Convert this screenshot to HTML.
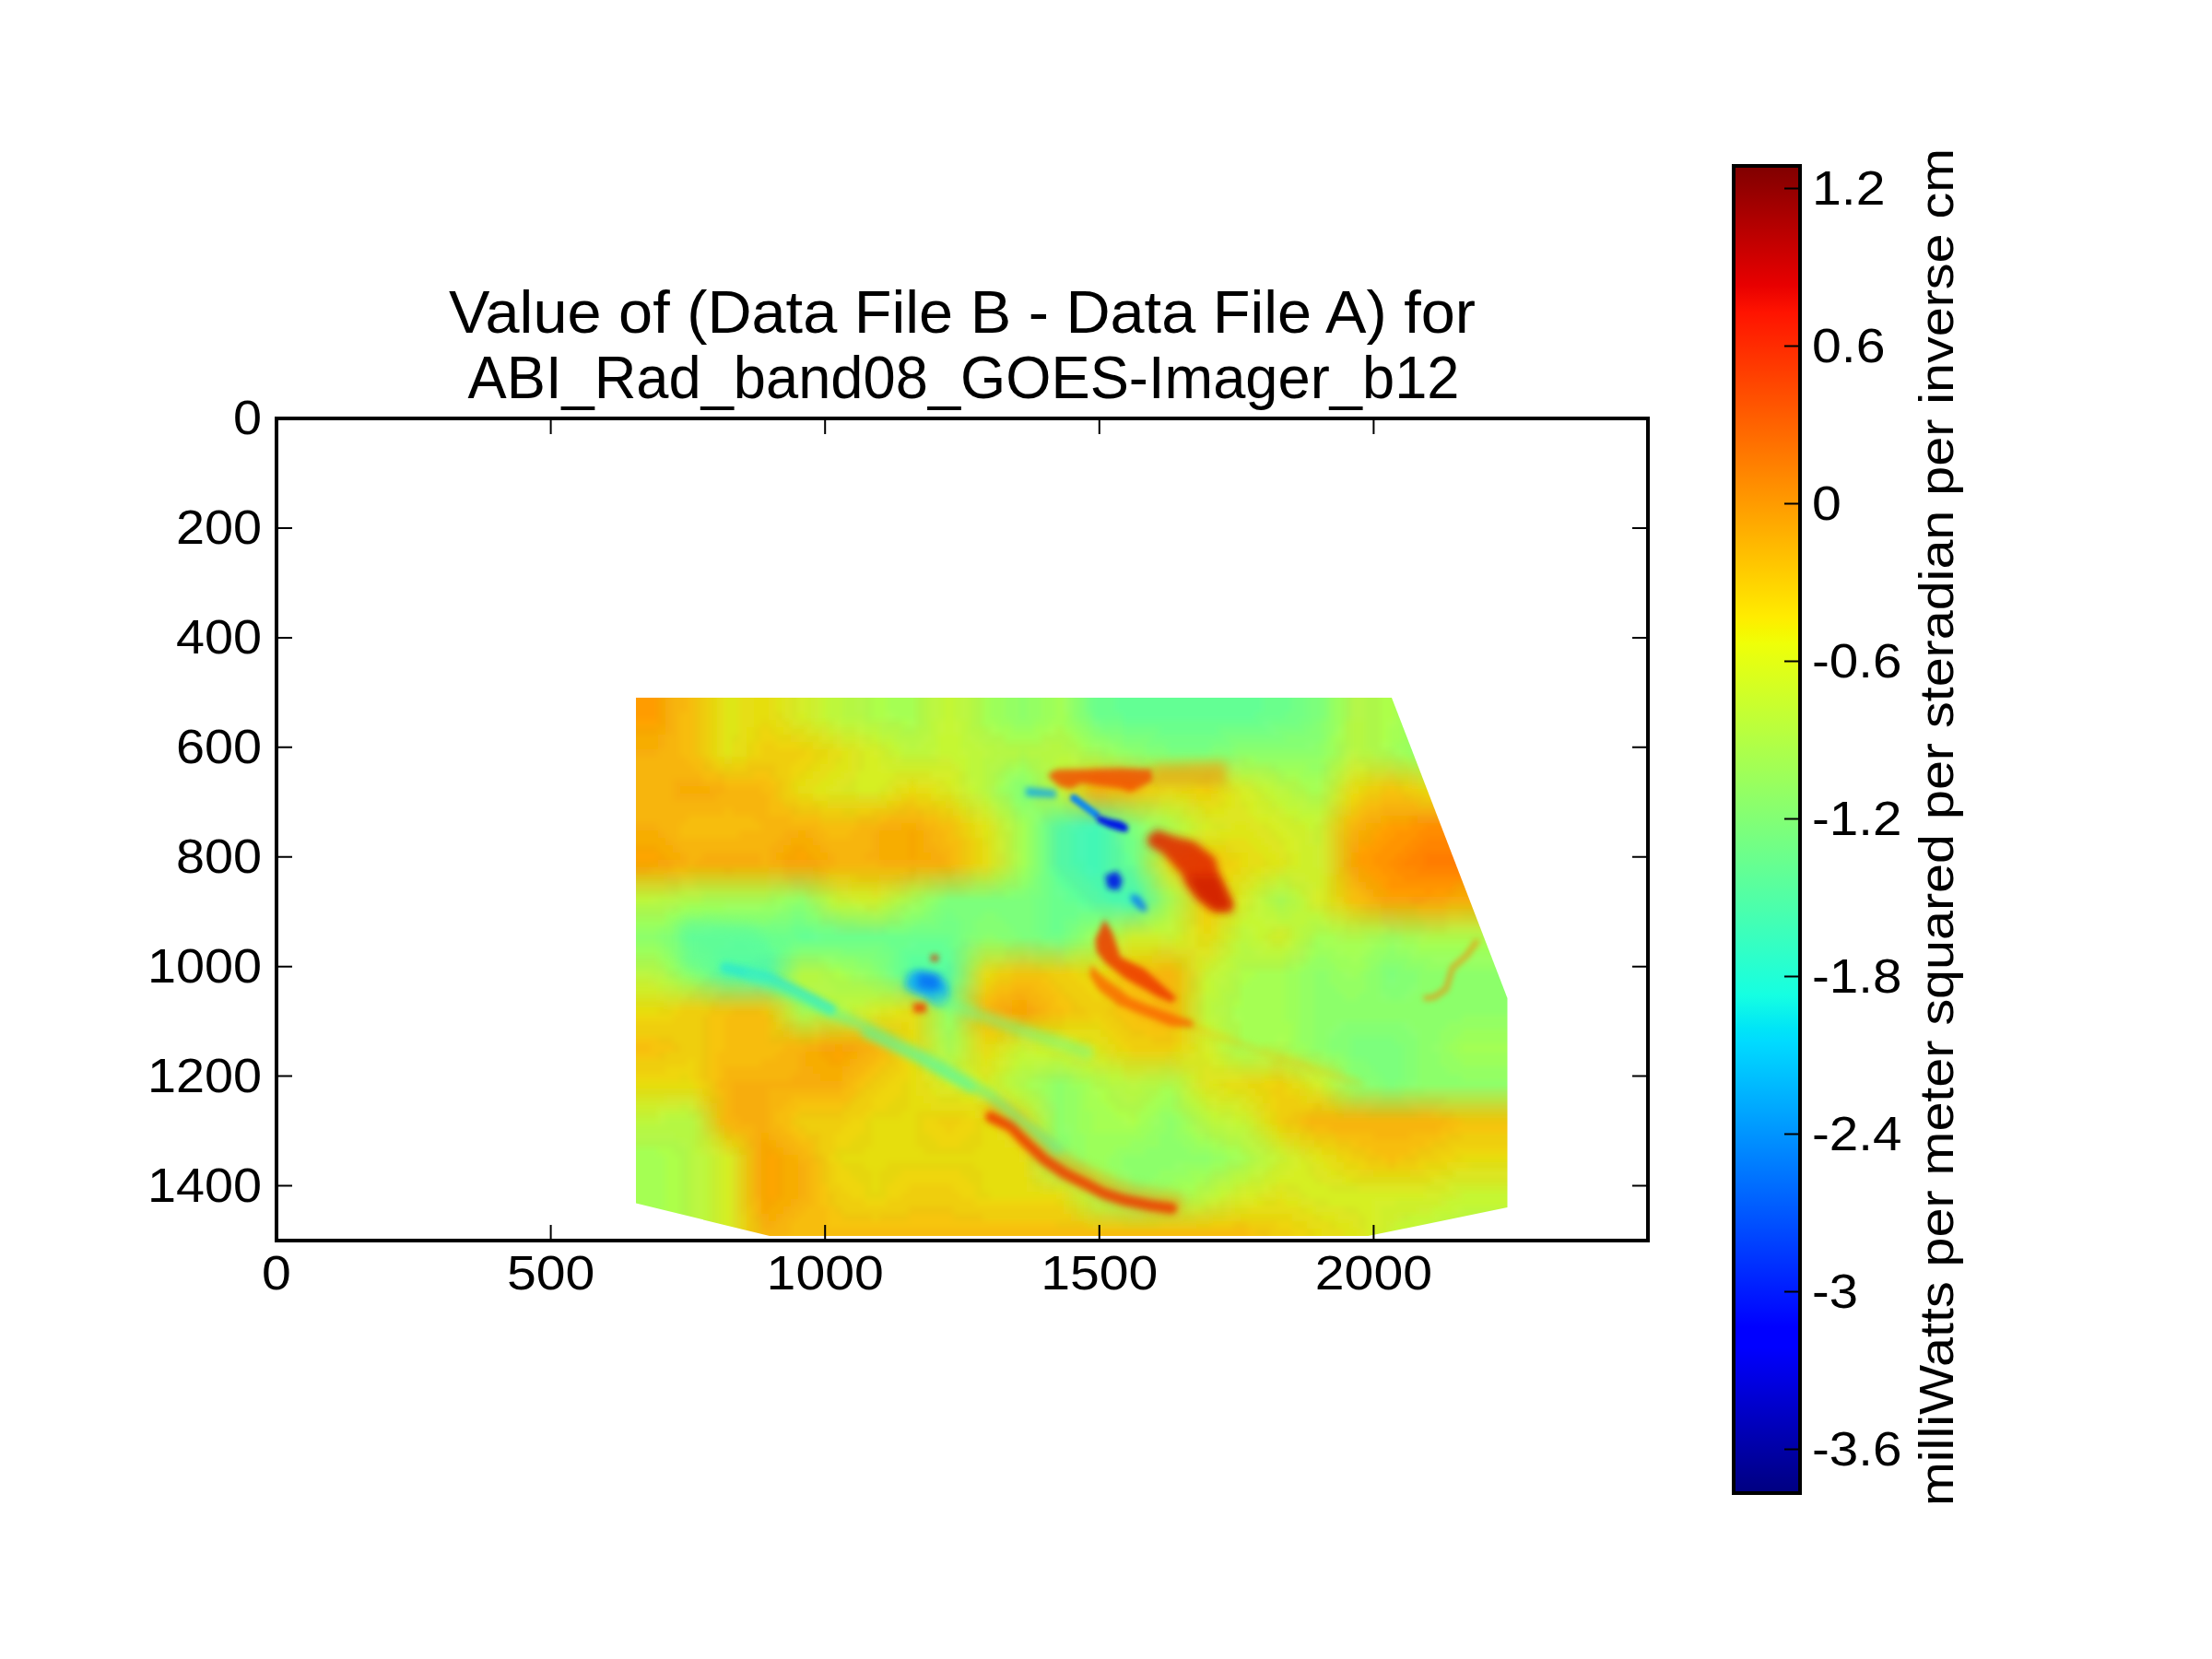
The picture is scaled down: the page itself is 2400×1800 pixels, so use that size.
<!DOCTYPE html><html><head><meta charset="utf-8"><style>html,body{margin:0;padding:0;background:#fff;overflow:hidden}svg{display:block}</style></head><body>
<svg width="2400" height="1800" viewBox="0 0 2400 1800" font-family="Liberation Sans, sans-serif" fill="#000">
<defs><linearGradient id="jet" x1="0" y1="1" x2="0" y2="0">
<stop offset="0" stop-color="#000080"/>
<stop offset="0.11" stop-color="#0000ff"/>
<stop offset="0.125" stop-color="#0000ff"/>
<stop offset="0.34" stop-color="#00dbff"/>
<stop offset="0.35" stop-color="#00e5f7"/>
<stop offset="0.375" stop-color="#15ffe2"/>
<stop offset="0.64" stop-color="#efff08"/>
<stop offset="0.65" stop-color="#f7f600"/>
<stop offset="0.66" stop-color="#ffec00"/>
<stop offset="0.89" stop-color="#ff1300"/>
<stop offset="0.91" stop-color="#e80000"/>
<stop offset="1" stop-color="#800000"/>
</linearGradient></defs>
<defs><clipPath id="cp"><polygon points="690,757 1510,757 1635.5,1083 1635.5,1310 1484.5,1341 835,1341 690,1305.5"/></clipPath><filter id="bl" x="0" y="0" width="1" height="1"><feGaussianBlur stdDeviation="3.2"/></filter></defs><g clip-path="url(#cp)"><g filter="url(#bl)" shape-rendering="crispEdges"><path fill="#ff9c00" d="M674 741h40v8h-40zM674 749h40v8h-40zM674 757h40v8h-40zM674 765h40v8h-40zM674 773h40v8h-40zM1506 893h24v8h-24zM1498 901h16v8h-16zM1490 909h16v8h-16zM1482 917h16v8h-16zM1474 925h16v8h-16zM1474 933h16v8h-16zM1482 941h16v8h-16zM1490 949h16v8h-16zM1498 957h8v8h-8zM1506 965h40v8h-40zM1554 965h16v8h-16z"/><path fill="#f7a500" d="M714 741h8v8h-8zM714 749h8v8h-8zM714 757h8v8h-8zM714 765h8v8h-8zM714 773h8v8h-8zM714 781h8v8h-8zM674 789h40v8h-40zM1506 885h24v8h-24zM1490 893h8v8h-8zM986 901h8v8h-8zM1482 901h8v8h-8zM986 909h8v8h-8zM1474 909h16v8h-16zM674 917h40v8h-40zM858 917h16v8h-16zM986 917h8v8h-8zM714 925h8v8h-8zM850 925h16v8h-16zM874 925h8v8h-8zM986 925h8v8h-8zM1466 925h8v8h-8zM674 933h40v8h-40zM1466 933h8v8h-8zM1474 941h8v8h-8zM1474 949h16v8h-16zM1482 957h16v8h-16zM1490 965h16v8h-16zM1578 965h72v8h-72zM1106 1085h8v8h-8zM1098 1093h16v8h-16zM906 1133h8v8h-8zM890 1141h16v8h-16zM914 1141h8v8h-8zM898 1149h16v8h-16zM826 1237h8v8h-8zM826 1245h16v8h-16zM826 1253h8v8h-8zM842 1253h8v8h-8zM826 1261h8v8h-8zM842 1261h8v8h-8zM826 1269h8v8h-8zM842 1269h8v8h-8zM826 1277h8v8h-8zM842 1277h8v8h-8zM826 1285h8v8h-8zM842 1285h8v8h-8zM826 1293h8v8h-8zM842 1293h8v8h-8zM826 1301h16v8h-16zM826 1309h8v8h-8z"/><path fill="#f7ad08" d="M722 741h8v8h-8zM722 749h8v8h-8zM722 757h8v8h-8zM722 765h8v8h-8zM722 773h8v8h-8zM722 781h8v8h-8zM722 789h8v8h-8zM714 797h8v8h-8zM714 805h8v8h-8zM674 813h40v8h-40zM730 845h32v8h-32zM730 853h8v8h-8zM770 853h16v8h-16zM730 861h48v8h-48zM1498 877h72v8h-72zM1482 885h16v8h-16zM674 893h40v8h-40zM954 893h24v8h-24zM994 893h8v8h-8zM1474 893h8v8h-8zM714 901h8v8h-8zM850 901h16v8h-16zM874 901h8v8h-8zM946 901h8v8h-8zM1002 901h8v8h-8zM1466 901h8v8h-8zM722 909h8v8h-8zM842 909h16v8h-16zM882 909h8v8h-8zM946 909h8v8h-8zM1002 909h8v8h-8zM1466 909h8v8h-8zM730 917h8v8h-8zM834 917h16v8h-16zM890 917h8v8h-8zM946 917h8v8h-8zM1002 917h16v8h-16zM738 925h8v8h-8zM762 925h64v8h-64zM834 925h8v8h-8zM898 925h8v8h-8zM938 925h16v8h-16zM1010 925h16v8h-16zM730 933h16v8h-16zM754 933h72v8h-72zM834 933h16v8h-16zM890 933h16v8h-16zM954 933h72v8h-72zM1466 949h8v8h-8zM1474 957h8v8h-8zM1482 965h8v8h-8zM1490 973h8v8h-8zM1570 973h80v8h-80zM1098 1077h16v8h-16zM1082 1085h16v8h-16zM1114 1085h8v8h-8zM1074 1093h16v8h-16zM1122 1093h8v8h-8zM874 1133h16v8h-16zM930 1133h16v8h-16zM866 1141h8v8h-8zM930 1141h8v8h-8zM866 1149h8v8h-8zM922 1149h8v8h-8zM866 1157h16v8h-16zM914 1157h8v8h-8zM858 1165h32v8h-32zM794 1173h120v8h-120zM794 1181h40v8h-40zM794 1189h40v8h-40zM794 1197h40v8h-40zM794 1205h40v8h-40zM802 1213h32v8h-32zM818 1221h16v8h-16zM818 1229h8v8h-8zM834 1229h8v8h-8zM818 1237h8v8h-8zM842 1237h8v8h-8zM818 1245h8v8h-8zM850 1245h8v8h-8zM818 1253h8v8h-8zM818 1261h8v8h-8zM866 1261h8v8h-8zM818 1269h8v8h-8zM866 1269h8v8h-8zM818 1277h8v8h-8zM866 1277h8v8h-8zM818 1285h8v8h-8zM866 1285h8v8h-8zM818 1293h8v8h-8zM866 1293h8v8h-8zM858 1301h8v8h-8zM850 1309h8v8h-8zM826 1317h8v8h-8zM842 1317h8v8h-8zM826 1325h16v8h-16z"/><path fill="#f7b508" d="M730 741h16v8h-16zM730 749h16v8h-16zM730 757h16v8h-16zM730 765h16v8h-16zM730 773h8v8h-8zM730 781h8v8h-8zM730 789h8v8h-8zM722 797h16v8h-16zM722 805h16v8h-16zM714 813h24v8h-24zM674 821h72v8h-72zM674 829h80v8h-80zM674 837h88v8h-88zM674 845h56v8h-56zM762 845h24v8h-24zM674 853h56v8h-56zM786 853h40v8h-40zM674 861h56v8h-56zM778 861h56v8h-56zM674 869h160v8h-160zM1498 869h40v8h-40zM674 877h112v8h-112zM794 877h40v8h-40zM1482 877h16v8h-16zM674 885h72v8h-72zM818 885h40v8h-40zM962 885h40v8h-40zM1474 885h8v8h-8zM714 893h24v8h-24zM826 893h64v8h-64zM930 893h24v8h-24zM1002 893h16v8h-16zM1466 893h8v8h-8zM722 901h16v8h-16zM802 901h48v8h-48zM882 901h16v8h-16zM922 901h24v8h-24zM1010 901h16v8h-16zM730 909h112v8h-112zM890 909h56v8h-56zM1010 909h16v8h-16zM738 917h96v8h-96zM898 917h48v8h-48zM1018 917h16v8h-16zM746 925h16v8h-16zM826 925h8v8h-8zM906 925h32v8h-32zM1026 925h8v8h-8zM746 933h8v8h-8zM826 933h8v8h-8zM906 933h48v8h-48zM1026 933h8v8h-8zM1466 957h8v8h-8zM1474 965h8v8h-8zM1482 973h8v8h-8zM1250 1053h24v8h-24zM1250 1061h24v8h-24zM1098 1069h24v8h-24zM1250 1069h24v8h-24zM1082 1077h16v8h-16zM1114 1077h16v8h-16zM1250 1077h24v8h-24zM1074 1085h8v8h-8zM1122 1085h16v8h-16zM1250 1085h24v8h-24zM1066 1093h8v8h-8zM1130 1093h8v8h-8zM1250 1093h24v8h-24zM1074 1101h24v8h-24zM1258 1101h16v8h-16zM850 1133h24v8h-24zM946 1133h8v8h-8zM842 1141h24v8h-24zM938 1141h16v8h-16zM826 1149h40v8h-40zM930 1149h16v8h-16zM786 1157h80v8h-80zM922 1157h16v8h-16zM786 1165h72v8h-72zM914 1165h16v8h-16zM778 1173h16v8h-16zM914 1173h8v8h-8zM786 1181h8v8h-8zM834 1181h80v8h-80zM786 1189h8v8h-8zM834 1189h24v8h-24zM786 1197h8v8h-8zM834 1197h16v8h-16zM786 1205h8v8h-8zM834 1205h8v8h-8zM786 1213h16v8h-16zM834 1213h8v8h-8zM1418 1213h152v8h-152zM794 1221h24v8h-24zM834 1221h16v8h-16zM1442 1221h120v8h-120zM810 1229h8v8h-8zM842 1229h16v8h-16zM1490 1229h40v8h-40zM850 1237h16v8h-16zM858 1245h16v8h-16zM866 1253h16v8h-16zM874 1261h8v8h-8zM874 1269h8v8h-8zM874 1277h8v8h-8zM874 1285h8v8h-8zM874 1293h8v8h-8zM818 1301h8v8h-8zM866 1301h16v8h-16zM818 1309h8v8h-8zM858 1309h16v8h-16zM850 1317h16v8h-16zM842 1325h16v8h-16zM826 1333h32v8h-32zM826 1341h24v8h-24zM826 1349h24v8h-24z"/><path fill="#f7bd08" d="M746 741h8v8h-8zM746 749h8v8h-8zM746 757h8v8h-8zM746 765h8v8h-8zM738 773h16v8h-16zM738 781h16v8h-16zM738 789h16v8h-16zM738 797h16v8h-16zM738 805h16v8h-16zM738 813h16v8h-16zM746 821h16v8h-16zM754 829h8v8h-8zM762 837h16v8h-16zM786 845h48v8h-48zM826 853h16v8h-16zM834 861h8v8h-8zM1498 861h24v8h-24zM834 869h16v8h-16zM1482 869h16v8h-16zM786 877h8v8h-8zM834 877h24v8h-24zM986 877h8v8h-8zM1474 877h8v8h-8zM746 885h72v8h-72zM858 885h32v8h-32zM954 885h8v8h-8zM1002 885h16v8h-16zM1466 885h8v8h-8zM738 893h88v8h-88zM890 893h40v8h-40zM1018 893h16v8h-16zM738 901h64v8h-64zM898 901h24v8h-24zM1026 901h8v8h-8zM1026 909h16v8h-16zM1034 917h8v8h-8zM1034 925h8v8h-8zM1034 933h8v8h-8zM1306 941h8v8h-8zM1466 965h8v8h-8zM1466 973h16v8h-16zM1226 1053h24v8h-24zM1098 1061h32v8h-32zM1226 1061h24v8h-24zM1082 1069h16v8h-16zM1122 1069h16v8h-16zM1226 1069h24v8h-24zM1074 1077h8v8h-8zM1130 1077h16v8h-16zM1226 1077h24v8h-24zM1066 1085h8v8h-8zM1138 1085h8v8h-8zM1226 1085h24v8h-24zM1138 1093h16v8h-16zM1226 1093h24v8h-24zM786 1101h48v8h-48zM1066 1101h8v8h-8zM1234 1101h24v8h-24zM786 1109h48v8h-48zM1250 1109h24v8h-24zM786 1117h48v8h-48zM786 1125h48v8h-48zM674 1133h32v8h-32zM786 1133h64v8h-64zM954 1133h8v8h-8zM778 1141h64v8h-64zM954 1141h8v8h-8zM778 1149h48v8h-48zM946 1149h8v8h-8zM778 1157h8v8h-8zM938 1157h8v8h-8zM778 1165h8v8h-8zM930 1165h8v8h-8zM922 1173h8v8h-8zM778 1181h8v8h-8zM914 1181h16v8h-16zM858 1189h64v8h-64zM850 1197h16v8h-16zM842 1205h16v8h-16zM842 1213h16v8h-16zM1410 1213h8v8h-8zM1570 1213h16v8h-16zM850 1221h8v8h-8zM1426 1221h16v8h-16zM1562 1221h16v8h-16zM858 1229h8v8h-8zM1450 1229h40v8h-40zM1530 1229h32v8h-32zM866 1237h16v8h-16zM1474 1237h72v8h-72zM874 1245h8v8h-8zM1490 1245h40v8h-40zM1506 1253h8v8h-8zM882 1261h8v8h-8zM882 1269h8v8h-8zM882 1277h8v8h-8zM882 1285h8v8h-8zM882 1293h8v8h-8zM882 1301h8v8h-8zM874 1309h24v8h-24zM866 1317h32v8h-32zM858 1325h40v8h-40zM858 1333h496v8h-496zM850 1341h504v8h-504zM850 1349h504v8h-504z"/><path fill="#efc508" d="M754 741h8v8h-8zM754 749h8v8h-8zM754 757h8v8h-8zM754 765h8v8h-8zM754 773h8v8h-8zM754 781h8v8h-8zM754 789h8v8h-8zM754 797h8v8h-8zM754 805h8v8h-8zM754 813h8v8h-8zM818 829h24v8h-24zM794 837h24v8h-24zM834 837h8v8h-8zM842 853h8v8h-8zM1498 853h8v8h-8zM1514 853h8v8h-8zM842 861h8v8h-8zM1482 861h16v8h-16zM1530 861h8v8h-8zM850 869h8v8h-8zM1474 869h8v8h-8zM866 877h8v8h-8zM1466 877h8v8h-8zM890 885h40v8h-40zM1018 885h8v8h-8zM1034 893h8v8h-8zM1034 901h8v8h-8zM1042 917h8v8h-8zM1042 925h8v8h-8zM1298 933h8v8h-8zM1314 933h8v8h-8zM1314 941h8v8h-8zM1314 949h8v8h-8zM1314 957h8v8h-8zM1306 973h8v8h-8zM1306 981h8v8h-8zM1098 1053h32v8h-32zM1218 1053h8v8h-8zM1082 1061h16v8h-16zM1138 1061h8v8h-8zM1210 1061h8v8h-8zM1074 1069h8v8h-8zM1146 1069h8v8h-8zM1210 1069h8v8h-8zM1154 1077h8v8h-8zM1210 1077h8v8h-8zM1162 1085h8v8h-8zM1210 1085h8v8h-8zM778 1093h16v8h-16zM1162 1093h16v8h-16zM1202 1093h8v8h-8zM762 1101h8v8h-8zM1210 1101h8v8h-8zM762 1109h8v8h-8zM1218 1109h8v8h-8zM762 1117h8v8h-8zM1226 1117h16v8h-16zM1266 1117h8v8h-8zM714 1125h16v8h-16zM762 1125h8v8h-8zM1250 1125h24v8h-24zM730 1133h8v8h-8zM762 1133h8v8h-8zM962 1133h8v8h-8zM714 1141h8v8h-8zM762 1141h8v8h-8zM962 1141h8v8h-8zM762 1149h8v8h-8zM962 1149h8v8h-8zM762 1157h8v8h-8zM954 1157h8v8h-8zM946 1165h8v8h-8zM770 1173h8v8h-8zM938 1173h8v8h-8zM930 1181h8v8h-8zM922 1189h8v8h-8zM914 1197h8v8h-8zM866 1205h48v8h-48zM1402 1205h16v8h-16zM858 1213h8v8h-8zM1394 1213h16v8h-16zM1586 1213h64v8h-64zM866 1221h8v8h-8zM874 1229h16v8h-16zM1434 1229h16v8h-16zM1570 1229h16v8h-16zM882 1237h8v8h-8zM1458 1237h8v8h-8zM1554 1237h16v8h-16zM882 1245h8v8h-8zM1466 1245h16v8h-16zM1538 1245h16v8h-16zM1482 1253h16v8h-16zM1522 1253h16v8h-16zM890 1261h8v8h-8zM890 1269h8v8h-8zM890 1277h8v8h-8zM898 1293h8v8h-8zM898 1301h8v8h-8zM906 1309h8v8h-8zM986 1309h48v8h-48zM914 1317h32v8h-32zM954 1317h32v8h-32zM1034 1317h32v8h-32zM1146 1325h16v8h-16zM1362 1333h16v8h-16zM1370 1341h8v8h-8zM1370 1349h8v8h-8z"/><path fill="#efce10" d="M762 741h8v8h-8zM762 749h8v8h-8zM762 757h8v8h-8zM762 765h8v8h-8zM762 773h8v8h-8zM762 781h8v8h-8zM762 789h8v8h-8zM762 797h8v8h-8zM762 805h8v8h-8zM826 805h16v8h-16zM762 813h8v8h-8zM826 813h48v8h-48zM770 821h8v8h-8zM810 821h16v8h-16zM850 821h16v8h-16zM778 829h8v8h-8zM794 829h16v8h-16zM850 829h8v8h-8zM842 837h16v8h-16zM850 845h8v8h-8zM850 853h8v8h-8zM1242 853h8v8h-8zM1306 853h8v8h-8zM1482 853h16v8h-16zM1522 853h16v8h-16zM850 861h16v8h-16zM986 861h8v8h-8zM1474 861h8v8h-8zM1546 861h16v8h-16zM866 869h16v8h-16zM970 869h8v8h-8zM994 869h16v8h-16zM1466 869h8v8h-8zM890 877h24v8h-24zM930 877h16v8h-16zM1018 877h8v8h-8zM1034 885h8v8h-8zM1042 893h8v8h-8zM1042 901h8v8h-8zM1050 909h8v8h-8zM1050 917h8v8h-8zM1050 925h8v8h-8zM1298 925h32v8h-32zM1050 933h8v8h-8zM1282 933h16v8h-16zM1322 933h16v8h-16zM1290 941h8v8h-8zM1322 941h8v8h-8zM1322 949h8v8h-8zM1322 957h8v8h-8zM1314 981h8v8h-8zM1306 989h8v8h-8zM1218 1045h8v8h-8zM1082 1053h16v8h-16zM1138 1053h24v8h-24zM1202 1053h16v8h-16zM1074 1061h8v8h-8zM1154 1061h16v8h-16zM1202 1061h8v8h-8zM1066 1069h8v8h-8zM1162 1069h16v8h-16zM1194 1069h16v8h-16zM1170 1077h16v8h-16zM1194 1077h8v8h-8zM1178 1085h16v8h-16zM738 1093h32v8h-32zM1186 1093h8v8h-8zM730 1101h16v8h-16zM1154 1101h32v8h-32zM1194 1101h16v8h-16zM674 1109h72v8h-72zM1202 1109h16v8h-16zM1066 1117h16v8h-16zM1210 1117h16v8h-16zM1274 1117h8v8h-8zM970 1125h8v8h-8zM1218 1125h8v8h-8zM1274 1125h8v8h-8zM970 1133h8v8h-8zM1226 1133h48v8h-48zM738 1141h16v8h-16zM970 1141h8v8h-8zM714 1149h32v8h-32zM754 1149h8v8h-8zM970 1149h8v8h-8zM674 1157h48v8h-48zM754 1157h8v8h-8zM962 1157h16v8h-16zM754 1165h8v8h-8zM962 1165h8v8h-8zM762 1173h8v8h-8zM954 1173h8v8h-8zM1386 1173h8v8h-8zM946 1181h8v8h-8zM1378 1181h16v8h-16zM938 1189h8v8h-8zM1386 1189h24v8h-24zM930 1197h16v8h-16zM1386 1197h40v8h-40zM922 1205h16v8h-16zM1386 1205h8v8h-8zM914 1213h8v8h-8zM1018 1213h24v8h-24zM1386 1213h8v8h-8zM890 1221h24v8h-24zM1026 1221h8v8h-8zM1402 1221h8v8h-8zM890 1229h16v8h-16zM1418 1229h8v8h-8zM890 1237h16v8h-16zM1434 1237h16v8h-16zM1578 1237h72v8h-72zM890 1245h16v8h-16zM1450 1245h16v8h-16zM1562 1245h16v8h-16zM1466 1253h8v8h-8zM1546 1253h16v8h-16zM898 1261h8v8h-8zM1482 1261h24v8h-24zM1514 1261h24v8h-24zM898 1269h8v8h-8zM898 1277h8v8h-8zM906 1285h8v8h-8zM986 1285h48v8h-48zM914 1293h8v8h-8zM978 1293h16v8h-16zM1026 1293h16v8h-16zM922 1301h16v8h-16zM962 1301h16v8h-16zM1042 1301h16v8h-16zM930 1309h40v8h-40zM1050 1309h104v8h-104zM1146 1317h16v8h-16zM1314 1325h24v8h-24zM1354 1325h32v8h-32zM1386 1333h16v8h-16zM1394 1341h8v8h-8zM1394 1349h8v8h-8z"/><path fill="#e6d610" d="M770 741h8v8h-8zM770 749h8v8h-8zM770 757h8v8h-8zM770 765h8v8h-8zM770 773h8v8h-8zM770 781h8v8h-8zM826 781h8v8h-8zM770 789h8v8h-8zM818 789h8v8h-8zM834 789h8v8h-8zM770 797h8v8h-8zM818 797h8v8h-8zM842 797h16v8h-16zM770 805h8v8h-8zM810 805h8v8h-8zM866 805h16v8h-16zM770 813h8v8h-8zM810 813h8v8h-8zM882 813h16v8h-16zM778 821h8v8h-8zM794 821h16v8h-16zM882 821h8v8h-8zM874 829h8v8h-8zM866 837h8v8h-8zM858 845h8v8h-8zM858 853h8v8h-8zM1250 853h8v8h-8zM1282 853h16v8h-16zM1314 853h8v8h-8zM1474 853h8v8h-8zM1538 853h16v8h-16zM866 861h16v8h-16zM978 861h8v8h-8zM994 861h16v8h-16zM1298 861h16v8h-16zM1578 861h8v8h-8zM890 869h8v8h-8zM1018 869h8v8h-8zM1050 893h8v8h-8zM1050 901h8v8h-8zM1058 909h8v8h-8zM1058 917h8v8h-8zM1306 917h24v8h-24zM1058 925h8v8h-8zM1290 925h8v8h-8zM1330 925h16v8h-16zM1058 933h8v8h-8zM1274 933h8v8h-8zM1338 941h8v8h-8zM1330 949h8v8h-8zM1322 973h8v8h-8zM1314 989h8v8h-8zM1306 1005h8v8h-8zM1226 1037h8v8h-8zM1074 1053h8v8h-8zM1170 1053h16v8h-16zM1194 1053h8v8h-8zM1066 1061h8v8h-8zM714 1093h16v8h-16zM978 1109h8v8h-8zM1154 1109h40v8h-40zM970 1117h16v8h-16zM1194 1117h8v8h-8zM1066 1125h16v8h-16zM1202 1125h8v8h-8zM1210 1133h8v8h-8zM1274 1133h8v8h-8zM738 1165h8v8h-8zM978 1173h8v8h-8zM1354 1173h16v8h-16zM1394 1173h8v8h-8zM978 1181h8v8h-8zM1362 1181h16v8h-16zM1402 1181h8v8h-8zM970 1189h16v8h-16zM1370 1189h8v8h-8zM1410 1189h8v8h-8zM962 1197h24v8h-24zM946 1205h32v8h-32zM994 1205h56v8h-56zM1378 1205h8v8h-8zM938 1213h8v8h-8zM994 1213h8v8h-8zM1058 1213h8v8h-8zM1378 1213h8v8h-8zM938 1221h8v8h-8zM994 1221h8v8h-8zM1058 1221h8v8h-8zM1386 1221h8v8h-8zM930 1229h16v8h-16zM994 1229h16v8h-16zM1050 1229h16v8h-16zM922 1237h24v8h-24zM994 1237h24v8h-24zM1042 1237h24v8h-24zM906 1245h32v8h-32zM1002 1245h56v8h-56zM1434 1245h16v8h-16zM906 1253h8v8h-8zM1450 1253h8v8h-8zM1578 1253h8v8h-8zM914 1261h24v8h-24zM962 1261h96v8h-96zM1458 1261h16v8h-16zM1546 1261h24v8h-24zM922 1269h24v8h-24zM954 1269h24v8h-24zM1042 1269h24v8h-24zM1490 1269h40v8h-40zM930 1277h16v8h-16zM954 1277h16v8h-16zM1050 1277h16v8h-16zM938 1285h8v8h-8zM954 1285h8v8h-8zM1058 1285h8v8h-8zM938 1293h24v8h-24zM1058 1293h16v8h-16zM1146 1301h8v8h-8zM1346 1317h56v8h-56zM1402 1325h16v8h-16zM1418 1333h8v8h-8zM1418 1341h8v8h-8zM1418 1349h8v8h-8z"/><path fill="#e6de19" d="M778 741h8v8h-8zM802 741h16v8h-16zM834 741h8v8h-8zM778 749h8v8h-8zM802 749h16v8h-16zM834 749h8v8h-8zM778 757h8v8h-8zM802 757h16v8h-16zM834 757h8v8h-8zM778 765h8v8h-8zM802 765h16v8h-16zM834 765h8v8h-8zM778 773h8v8h-8zM802 773h16v8h-16zM834 773h8v8h-8zM778 781h8v8h-8zM802 781h16v8h-16zM842 781h8v8h-8zM778 789h8v8h-8zM802 789h8v8h-8zM850 789h8v8h-8zM778 797h8v8h-8zM802 797h8v8h-8zM866 797h8v8h-8zM778 805h8v8h-8zM794 805h16v8h-16zM882 805h8v8h-8zM778 813h8v8h-8zM794 813h16v8h-16zM898 813h16v8h-16zM898 821h8v8h-8zM890 829h16v8h-16zM882 837h16v8h-16zM874 845h16v8h-16zM866 853h16v8h-16zM978 853h8v8h-8zM994 853h16v8h-16zM1266 853h8v8h-8zM1466 853h8v8h-8zM1554 853h16v8h-16zM882 861h16v8h-16zM962 861h8v8h-8zM1010 861h8v8h-8zM1322 861h8v8h-8zM1306 869h16v8h-16zM1058 893h8v8h-8zM1058 901h8v8h-8zM1330 909h24v8h-24zM1066 917h8v8h-8zM1338 917h24v8h-24zM1066 925h8v8h-8zM1354 925h16v8h-16zM1066 933h8v8h-8zM1266 933h8v8h-8zM1354 933h16v8h-16zM1346 941h8v8h-8zM1338 949h8v8h-8zM1298 1005h8v8h-8zM1314 1005h8v8h-8zM1306 1013h8v8h-8zM1066 1053h8v8h-8zM986 1093h8v8h-8zM970 1101h24v8h-24zM986 1109h8v8h-8zM1154 1117h40v8h-40zM1186 1125h16v8h-16zM1066 1133h8v8h-8zM1202 1133h8v8h-8zM1282 1133h8v8h-8zM1066 1141h8v8h-8zM994 1165h8v8h-8zM994 1173h8v8h-8zM1330 1173h24v8h-24zM1402 1173h8v8h-8zM994 1181h16v8h-16zM1354 1181h8v8h-8zM1002 1189h16v8h-16zM1362 1189h8v8h-8zM1010 1197h48v8h-48zM1058 1205h16v8h-16zM1370 1205h8v8h-8zM1074 1213h24v8h-24zM1082 1221h24v8h-24zM1082 1229h24v8h-24zM1090 1237h24v8h-24zM1106 1245h8v8h-8zM1426 1245h8v8h-8zM1106 1253h8v8h-8zM1434 1253h16v8h-16zM1442 1261h16v8h-16zM1570 1261h24v8h-24zM1458 1269h16v8h-16zM1546 1269h16v8h-16zM1114 1285h8v8h-8zM1146 1293h8v8h-8zM1386 1301h8v8h-8zM1354 1309h56v8h-56zM1402 1317h24v8h-24zM1418 1325h24v8h-24zM1434 1333h24v8h-24zM1442 1341h16v8h-16zM1442 1349h16v8h-16z"/><path fill="#dee619" d="M786 741h16v8h-16zM842 741h8v8h-8zM786 749h16v8h-16zM842 749h8v8h-8zM786 757h16v8h-16zM842 757h8v8h-8zM786 765h16v8h-16zM842 765h8v8h-8zM786 773h16v8h-16zM786 781h16v8h-16zM786 789h16v8h-16zM786 797h8v8h-8zM786 805h8v8h-8zM786 813h8v8h-8zM914 813h8v8h-8zM914 821h8v8h-8zM906 829h16v8h-16zM898 837h16v8h-16zM890 845h16v8h-16zM882 853h16v8h-16zM1010 853h8v8h-8zM1586 853h64v8h-64zM1330 861h8v8h-8zM1330 869h8v8h-8zM1314 877h16v8h-16zM1066 893h8v8h-8zM1338 893h16v8h-16zM1066 901h8v8h-8zM1322 901h40v8h-40zM1354 909h16v8h-16zM1362 917h16v8h-16zM1370 925h16v8h-16zM1378 933h16v8h-16zM1362 941h8v8h-8zM970 1093h8v8h-8zM1162 1125h8v8h-8zM1186 1133h8v8h-8zM1074 1141h8v8h-8zM1066 1149h8v8h-8zM1314 1173h8v8h-8zM1010 1181h8v8h-8zM1330 1181h8v8h-8zM1042 1189h16v8h-16zM1066 1197h8v8h-8zM1082 1205h8v8h-8zM1098 1213h8v8h-8zM1106 1221h8v8h-8zM1426 1253h8v8h-8zM1434 1261h8v8h-8zM1442 1269h8v8h-8zM1458 1277h8v8h-8zM1386 1293h8v8h-8zM1362 1301h8v8h-8zM1394 1301h16v8h-16zM1418 1309h8v8h-8zM1434 1317h16v8h-16zM1450 1325h16v8h-16zM1458 1333h16v8h-16zM1458 1341h16v8h-16zM1458 1349h16v8h-16z"/><path fill="#e6de10" d="M818 741h16v8h-16zM818 749h16v8h-16zM818 757h16v8h-16zM818 765h16v8h-16zM818 773h16v8h-16zM818 781h8v8h-8zM834 781h8v8h-8zM810 789h8v8h-8zM842 789h8v8h-8zM810 797h8v8h-8zM890 821h8v8h-8zM882 829h8v8h-8zM874 837h8v8h-8zM866 845h8v8h-8zM986 853h8v8h-8zM1346 925h8v8h-8zM1346 933h8v8h-8zM1186 1053h8v8h-8zM674 1093h40v8h-40zM986 1117h8v8h-8zM986 1125h8v8h-8zM986 1133h8v8h-8zM986 1141h8v8h-8zM986 1149h8v8h-8zM986 1157h8v8h-8zM986 1165h8v8h-8zM674 1173h80v8h-80zM986 1173h8v8h-8zM986 1181h8v8h-8zM986 1189h16v8h-16zM986 1197h24v8h-24zM978 1205h16v8h-16zM1050 1205h8v8h-8zM946 1213h48v8h-48zM1066 1213h8v8h-8zM946 1221h48v8h-48zM1066 1221h16v8h-16zM946 1229h48v8h-48zM1066 1229h16v8h-16zM946 1237h48v8h-48zM1066 1237h24v8h-24zM938 1245h64v8h-64zM1058 1245h48v8h-48zM914 1253h192v8h-192zM1586 1253h64v8h-64zM938 1261h24v8h-24zM1058 1261h56v8h-56zM946 1269h8v8h-8zM1066 1269h48v8h-48zM946 1277h8v8h-8zM1066 1277h48v8h-48zM946 1285h8v8h-8zM1066 1285h48v8h-48zM1074 1293h72v8h-72zM1426 1333h8v8h-8zM1426 1341h16v8h-16zM1426 1349h16v8h-16z"/><path fill="#dee621" d="M850 741h8v8h-8zM850 749h8v8h-8zM850 757h8v8h-8zM850 765h8v8h-8zM850 773h8v8h-8zM858 781h8v8h-8zM874 789h8v8h-8zM890 797h8v8h-8zM906 805h8v8h-8zM922 813h8v8h-8zM922 821h8v8h-8zM922 829h8v8h-8zM914 837h16v8h-16zM906 845h16v8h-16zM970 845h16v8h-16zM994 845h24v8h-24zM898 853h16v8h-16zM962 853h8v8h-8zM1018 853h8v8h-8zM1338 861h8v8h-8zM1338 869h8v8h-8zM1330 877h24v8h-24zM1058 885h8v8h-8zM1314 885h48v8h-48zM1330 893h8v8h-8zM1354 893h16v8h-16zM1306 901h16v8h-16zM1362 901h16v8h-16zM1370 909h16v8h-16zM1378 917h16v8h-16zM1386 925h8v8h-8zM1370 941h8v8h-8zM1354 949h8v8h-8zM1346 957h8v8h-8zM1338 973h8v8h-8zM1290 1005h8v8h-8zM1290 1013h8v8h-8zM1290 1021h8v8h-8zM1298 1029h16v8h-16zM962 1093h8v8h-8zM1146 1125h16v8h-16zM1082 1133h8v8h-8zM1170 1133h16v8h-16zM1290 1141h8v8h-8zM1066 1157h8v8h-8zM1306 1157h8v8h-8zM1002 1165h8v8h-8zM1306 1165h40v8h-40zM1010 1173h8v8h-8zM1306 1173h8v8h-8zM1018 1181h16v8h-16zM1322 1181h8v8h-8zM1058 1189h16v8h-16zM1346 1189h8v8h-8zM1074 1197h8v8h-8zM1354 1197h8v8h-8zM1090 1205h8v8h-8zM1106 1213h8v8h-8zM1418 1253h8v8h-8zM1426 1261h8v8h-8zM1426 1269h16v8h-16zM1578 1269h72v8h-72zM1434 1277h24v8h-24zM1554 1277h16v8h-16zM1386 1285h8v8h-8zM1474 1285h72v8h-72zM1370 1293h16v8h-16zM1394 1293h16v8h-16zM1346 1301h16v8h-16zM1410 1301h16v8h-16zM1426 1309h32v8h-32zM1450 1317h24v8h-24zM1466 1325h8v8h-8zM1474 1333h8v8h-8zM1474 1341h8v8h-8zM1474 1349h8v8h-8z"/><path fill="#d6e621" d="M858 741h8v8h-8zM858 749h8v8h-8zM858 757h8v8h-8zM858 765h8v8h-8zM858 773h8v8h-8zM866 781h16v8h-16zM882 789h8v8h-8zM898 797h8v8h-8zM914 805h16v8h-16zM930 813h8v8h-8zM930 821h8v8h-8zM930 829h8v8h-8zM970 837h40v8h-40zM1474 837h8v8h-8zM922 845h8v8h-8zM962 845h8v8h-8zM1018 845h8v8h-8zM914 853h16v8h-16zM954 853h8v8h-8zM1026 853h8v8h-8zM1338 853h8v8h-8zM1034 861h8v8h-8zM1042 869h8v8h-8zM1282 869h8v8h-8zM1346 869h8v8h-8zM1298 877h8v8h-8zM1066 885h8v8h-8zM1306 885h8v8h-8zM1314 893h16v8h-16zM1370 893h8v8h-8zM1074 901h8v8h-8zM1378 901h8v8h-8zM1074 909h8v8h-8zM1290 909h8v8h-8zM1386 909h8v8h-8zM1074 917h8v8h-8zM1074 925h8v8h-8zM1394 925h8v8h-8zM1074 933h8v8h-8zM1394 933h8v8h-8zM1378 941h8v8h-8zM1362 949h8v8h-8zM1434 949h8v8h-8zM1354 957h8v8h-8zM1434 957h8v8h-8zM922 965h24v8h-24zM1346 965h8v8h-8zM1434 965h8v8h-8zM1434 973h8v8h-8zM1338 981h8v8h-8zM1330 997h8v8h-8zM1322 1005h8v8h-8zM1282 1013h8v8h-8zM1322 1013h8v8h-8zM1226 1021h32v8h-32zM1274 1021h16v8h-16zM1314 1021h8v8h-8zM1298 1037h8v8h-8zM1298 1045h8v8h-8zM674 1077h40v8h-40zM954 1093h8v8h-8zM938 1101h8v8h-8zM1122 1125h24v8h-24zM1298 1125h8v8h-8zM1090 1133h8v8h-8zM1162 1133h8v8h-8zM1298 1133h8v8h-8zM1058 1141h8v8h-8zM1082 1141h8v8h-8zM1186 1141h16v8h-16zM1298 1141h8v8h-8zM1058 1149h8v8h-8zM1074 1149h8v8h-8zM1282 1149h32v8h-32zM1002 1157h8v8h-8zM1058 1157h8v8h-8zM1074 1157h8v8h-8zM1298 1157h8v8h-8zM1314 1157h16v8h-16zM1010 1165h8v8h-8zM1066 1165h8v8h-8zM1298 1165h8v8h-8zM1018 1173h8v8h-8zM1418 1173h8v8h-8zM1034 1181h40v8h-40zM1306 1181h16v8h-16zM674 1189h48v8h-48zM1074 1189h8v8h-8zM1322 1189h24v8h-24zM1082 1197h8v8h-8zM1346 1197h8v8h-8zM1098 1205h8v8h-8zM1354 1205h8v8h-8zM1362 1213h8v8h-8zM1370 1221h8v8h-8zM1378 1229h8v8h-8zM1386 1237h8v8h-8zM1402 1245h8v8h-8zM1410 1253h8v8h-8zM1418 1261h8v8h-8zM1418 1269h8v8h-8zM1426 1277h8v8h-8zM1570 1277h80v8h-80zM1146 1285h8v8h-8zM1378 1285h8v8h-8zM1394 1285h16v8h-16zM1442 1285h32v8h-32zM1546 1285h24v8h-24zM1362 1293h8v8h-8zM1410 1293h8v8h-8zM1338 1301h8v8h-8zM1426 1301h16v8h-16zM1458 1309h16v8h-16zM1474 1317h8v8h-8zM1474 1325h8v8h-8z"/><path fill="#d6ef29" d="M866 741h8v8h-8zM866 749h8v8h-8zM866 757h8v8h-8zM866 765h8v8h-8zM930 805h8v8h-8zM946 813h8v8h-8zM954 829h8v8h-8zM1010 837h24v8h-24zM1034 853h8v8h-8zM1346 853h8v8h-8zM1354 861h8v8h-8zM1362 877h8v8h-8zM1378 885h8v8h-8zM1386 893h8v8h-8zM1394 901h8v8h-8zM1402 909h8v8h-8zM1402 917h8v8h-8zM1426 965h8v8h-8zM1346 973h8v8h-8zM1426 973h8v8h-8zM946 1093h8v8h-8zM1146 1133h8v8h-8zM1306 1133h8v8h-8zM1178 1141h8v8h-8zM1082 1149h8v8h-8zM1314 1149h8v8h-8zM1050 1165h8v8h-8zM1034 1173h8v8h-8zM1426 1173h8v8h-8zM1314 1189h8v8h-8zM1338 1197h8v8h-8zM1402 1253h8v8h-8zM1402 1261h8v8h-8zM1394 1269h8v8h-8zM1370 1285h8v8h-8zM1570 1285h8v8h-8zM1346 1293h8v8h-8zM1546 1293h16v8h-16zM1490 1301h24v8h-24zM1490 1309h8v8h-8zM1490 1317h8v8h-8zM1490 1325h8v8h-8z"/><path fill="#ceef29" d="M874 741h8v8h-8zM874 749h8v8h-8zM874 757h8v8h-8zM874 765h8v8h-8zM874 773h8v8h-8zM882 781h16v8h-16zM898 789h8v8h-8zM914 797h16v8h-16zM938 805h16v8h-16zM954 813h8v8h-8zM954 821h16v8h-16zM962 829h72v8h-72zM1034 837h8v8h-8zM1034 845h8v8h-8zM1354 853h8v8h-8zM1362 861h8v8h-8zM1362 869h16v8h-16zM1066 877h8v8h-8zM1370 877h16v8h-16zM1290 885h8v8h-8zM1386 885h16v8h-16zM1298 893h8v8h-8zM1394 893h24v8h-24zM1290 901h8v8h-8zM1402 901h16v8h-16zM1410 909h8v8h-8zM1410 917h16v8h-16zM1410 925h16v8h-16zM1410 933h16v8h-16zM1394 941h40v8h-40zM1378 949h8v8h-8zM1418 949h16v8h-16zM1362 957h8v8h-8zM1426 957h8v8h-8zM1354 965h8v8h-8zM930 973h24v8h-24zM1346 981h8v8h-8zM1338 997h8v8h-8zM1226 1013h32v8h-32zM1274 1013h8v8h-8zM1330 1013h8v8h-8zM1378 1013h16v8h-16zM1314 1037h8v8h-8zM1306 1045h8v8h-8zM674 1069h40v8h-40zM938 1093h8v8h-8zM1306 1125h8v8h-8zM1098 1133h8v8h-8zM1122 1133h24v8h-24zM1090 1141h8v8h-8zM1170 1141h8v8h-8zM1314 1141h8v8h-8zM1194 1149h8v8h-8zM1322 1149h8v8h-8zM1050 1157h8v8h-8zM1082 1157h8v8h-8zM1018 1165h8v8h-8zM1034 1165h16v8h-16zM1074 1165h8v8h-8zM1290 1165h8v8h-8zM1074 1173h8v8h-8zM1074 1181h8v8h-8zM1298 1181h8v8h-8zM1082 1189h8v8h-8zM1306 1189h8v8h-8zM674 1197h40v8h-40zM1098 1197h8v8h-8zM1322 1197h16v8h-16zM1338 1205h16v8h-16zM1114 1213h8v8h-8zM1354 1213h8v8h-8zM1386 1245h8v8h-8zM778 1253h8v8h-8zM1394 1253h8v8h-8zM778 1261h8v8h-8zM1386 1261h16v8h-16zM778 1269h8v8h-8zM1378 1269h16v8h-16zM778 1277h8v8h-8zM1370 1277h16v8h-16zM778 1285h8v8h-8zM1354 1285h16v8h-16zM1578 1285h72v8h-72zM778 1293h8v8h-8zM1338 1293h8v8h-8zM1562 1293h16v8h-16zM778 1301h8v8h-8zM1514 1301h48v8h-48zM778 1309h8v8h-8zM1498 1309h40v8h-40zM778 1317h8v8h-8zM1498 1317h16v8h-16zM778 1325h8v8h-8zM1498 1325h8v8h-8zM778 1333h8v8h-8zM1490 1333h16v8h-16zM778 1341h8v8h-8zM1490 1341h16v8h-16zM778 1349h8v8h-8zM1490 1349h16v8h-16z"/><path fill="#ceef31" d="M882 741h8v8h-8zM882 749h8v8h-8zM882 757h8v8h-8zM882 765h8v8h-8zM882 773h8v8h-8zM906 789h8v8h-8zM930 797h8v8h-8zM970 821h8v8h-8zM1018 821h16v8h-16zM1034 829h8v8h-8zM1466 829h16v8h-16zM1458 837h8v8h-8zM1338 845h8v8h-8zM1042 853h8v8h-8zM1050 861h8v8h-8zM1058 869h8v8h-8zM1386 877h8v8h-8zM1074 885h8v8h-8zM1418 901h8v8h-8zM1082 909h8v8h-8zM1274 909h8v8h-8zM1418 909h8v8h-8zM1082 917h8v8h-8zM1426 917h8v8h-8zM1426 925h8v8h-8zM1426 933h8v8h-8zM1402 949h16v8h-16zM1418 957h8v8h-8zM1418 965h8v8h-8zM922 973h8v8h-8zM1354 973h8v8h-8zM1418 973h8v8h-8zM1426 981h8v8h-8zM1346 989h8v8h-8zM1386 1005h8v8h-8zM1258 1013h8v8h-8zM1210 1021h8v8h-8zM1322 1029h8v8h-8zM930 1093h8v8h-8zM1306 1117h8v8h-8zM1114 1133h8v8h-8zM1314 1133h8v8h-8zM1162 1141h8v8h-8zM1010 1149h8v8h-8zM1090 1149h8v8h-8zM1186 1149h8v8h-8zM1042 1157h8v8h-8zM1026 1165h8v8h-8zM1418 1165h8v8h-8zM1290 1173h8v8h-8zM1082 1181h8v8h-8zM1090 1189h8v8h-8zM714 1197h24v8h-24zM746 1197h8v8h-8zM1314 1197h8v8h-8zM770 1245h8v8h-8zM1346 1285h8v8h-8zM1330 1293h8v8h-8zM1578 1293h8v8h-8zM1314 1301h8v8h-8zM1562 1301h8v8h-8zM1538 1309h16v8h-16zM1514 1317h8v8h-8zM1506 1325h8v8h-8z"/><path fill="#c5f731" d="M890 741h8v8h-8zM1026 741h8v8h-8zM890 749h8v8h-8zM1026 749h8v8h-8zM890 757h8v8h-8zM1026 757h8v8h-8zM890 765h8v8h-8zM1026 765h8v8h-8zM890 773h8v8h-8zM1026 773h8v8h-8zM1026 781h8v8h-8zM1026 789h8v8h-8zM946 797h8v8h-8zM1018 797h24v8h-24zM962 805h8v8h-8zM1018 805h24v8h-24zM970 813h8v8h-8zM1018 813h24v8h-24zM1034 821h16v8h-16zM1042 829h8v8h-8zM1146 845h8v8h-8zM1050 853h8v8h-8zM1146 853h8v8h-8zM1370 853h8v8h-8zM1378 861h8v8h-8zM1386 869h8v8h-8zM1394 877h16v8h-16zM1410 885h16v8h-16zM1418 893h8v8h-8zM1354 989h8v8h-8zM1346 997h24v8h-24zM1362 1005h16v8h-16zM1362 1013h8v8h-8zM1306 1061h8v8h-8zM1306 1069h8v8h-8zM1306 1109h8v8h-8zM1106 1141h8v8h-8zM1122 1141h16v8h-16zM1098 1149h8v8h-8zM1314 1205h8v8h-8zM1338 1213h8v8h-8zM1322 1293h8v8h-8zM1586 1293h64v8h-64zM1570 1301h80v8h-80zM1554 1309h24v8h-24zM1530 1317h24v8h-24zM1514 1325h24v8h-24zM1506 1333h16v8h-16zM1506 1341h16v8h-16zM1506 1349h16v8h-16z"/><path fill="#bdf73a" d="M898 741h16v8h-16zM1018 741h8v8h-8zM1034 741h8v8h-8zM898 749h16v8h-16zM1018 749h8v8h-8zM1034 749h8v8h-8zM898 757h16v8h-16zM1018 757h8v8h-8zM1034 757h8v8h-8zM898 765h16v8h-16zM1018 765h8v8h-8zM1034 765h8v8h-8zM898 773h16v8h-16zM1018 773h8v8h-8zM1034 773h8v8h-8zM914 781h16v8h-16zM1010 781h8v8h-8zM1042 781h8v8h-8zM938 789h16v8h-16zM1010 789h8v8h-8zM1042 789h8v8h-8zM954 797h16v8h-16zM1010 797h8v8h-8zM1042 797h8v8h-8zM970 805h8v8h-8zM1002 805h16v8h-16zM1042 805h16v8h-16zM978 813h32v8h-32zM1050 813h16v8h-16zM1050 821h16v8h-16zM1146 821h16v8h-16zM1050 829h16v8h-16zM1146 829h8v8h-8zM1050 837h16v8h-16zM1058 845h8v8h-8zM1362 845h8v8h-8zM1058 853h8v8h-8zM1378 853h8v8h-8zM1066 861h8v8h-8zM1386 861h16v8h-16zM1394 869h16v8h-16zM1410 877h24v8h-24zM1282 893h8v8h-8zM1386 957h8v8h-8zM1402 965h8v8h-8zM674 973h32v8h-32zM898 973h8v8h-8zM1410 973h8v8h-8zM1370 981h8v8h-8zM1410 981h8v8h-8zM1370 989h16v8h-16zM1402 989h32v8h-32zM1386 997h32v8h-32zM1250 1005h16v8h-16zM1346 1005h8v8h-8zM1402 1005h8v8h-8zM1346 1013h16v8h-16zM1402 1013h8v8h-8zM1338 1021h8v8h-8zM1354 1021h16v8h-16zM1338 1029h8v8h-8zM1370 1029h24v8h-24zM1330 1037h8v8h-8zM1330 1045h8v8h-8zM1322 1053h8v8h-8zM714 1061h8v8h-8zM1314 1061h8v8h-8zM1314 1069h8v8h-8zM1306 1077h16v8h-16zM922 1085h16v8h-16zM1306 1085h8v8h-8zM906 1093h16v8h-16zM1306 1093h8v8h-8zM1306 1101h8v8h-8zM1314 1109h8v8h-8zM1322 1117h8v8h-8zM1322 1125h8v8h-8zM1322 1133h8v8h-8zM1106 1149h16v8h-16zM1154 1149h8v8h-8zM1098 1157h8v8h-8zM1178 1157h8v8h-8zM1090 1165h8v8h-8zM1202 1165h16v8h-16zM1090 1173h8v8h-8zM1098 1181h8v8h-8zM1290 1189h8v8h-8zM1298 1197h8v8h-8zM722 1205h24v8h-24zM1306 1205h8v8h-8zM674 1213h40v8h-40zM1314 1213h16v8h-16zM1338 1221h16v8h-16zM754 1245h8v8h-8zM762 1253h8v8h-8zM1370 1253h8v8h-8zM762 1261h8v8h-8zM1370 1261h8v8h-8zM762 1269h8v8h-8zM1354 1269h8v8h-8zM762 1277h8v8h-8zM1338 1277h16v8h-16zM762 1285h8v8h-8zM1322 1285h16v8h-16zM762 1293h8v8h-8zM1314 1293h8v8h-8zM762 1301h8v8h-8zM762 1309h8v8h-8zM1586 1309h64v8h-64zM762 1317h8v8h-8zM1562 1317h88v8h-88zM762 1325h8v8h-8zM1546 1325h24v8h-24zM762 1333h8v8h-8zM1530 1333h24v8h-24zM762 1341h8v8h-8zM1530 1341h16v8h-16zM762 1349h8v8h-8zM1530 1349h16v8h-16z"/><path fill="#b5f742" d="M914 741h16v8h-16zM1002 741h8v8h-8zM1050 741h8v8h-8zM914 749h16v8h-16zM1002 749h8v8h-8zM1050 749h8v8h-8zM914 757h16v8h-16zM1002 757h8v8h-8zM1050 757h8v8h-8zM914 765h16v8h-16zM1002 765h8v8h-8zM1050 765h8v8h-8zM914 773h24v8h-24zM1002 773h8v8h-8zM1050 773h8v8h-8zM938 781h16v8h-16zM1002 781h8v8h-8zM1050 781h8v8h-8zM1466 781h16v8h-16zM954 789h24v8h-24zM994 789h16v8h-16zM1050 789h16v8h-16zM1466 789h16v8h-16zM970 797h32v8h-32zM1058 797h8v8h-8zM1466 797h16v8h-16zM986 805h8v8h-8zM1066 805h16v8h-16zM1138 805h16v8h-16zM1466 805h16v8h-16zM1074 813h32v8h-32zM1114 813h48v8h-48zM1474 813h16v8h-16zM1066 821h16v8h-16zM1130 821h16v8h-16zM1066 829h8v8h-8zM1138 829h8v8h-8zM1450 829h8v8h-8zM1066 837h8v8h-8zM1138 837h8v8h-8zM1346 837h16v8h-16zM1066 845h8v8h-8zM1138 845h8v8h-8zM1378 845h8v8h-8zM1066 853h8v8h-8zM1138 853h8v8h-8zM1394 853h8v8h-8zM1402 861h16v8h-16zM1418 869h16v8h-16zM1082 877h8v8h-8zM1090 885h8v8h-8zM1266 885h8v8h-8zM1274 893h8v8h-8zM1266 901h8v8h-8zM1378 965h8v8h-8zM1394 965h8v8h-8zM714 973h16v8h-16zM970 973h8v8h-8zM1370 973h8v8h-8zM1402 973h8v8h-8zM906 981h24v8h-24zM954 981h8v8h-8zM1378 981h8v8h-8zM1394 981h16v8h-16zM1266 989h8v8h-8zM1386 989h16v8h-16zM1258 997h8v8h-8zM1418 997h16v8h-16zM1410 1005h16v8h-16zM1442 1005h16v8h-16zM1202 1013h8v8h-8zM1410 1013h8v8h-8zM1346 1021h8v8h-8zM1402 1021h8v8h-8zM1346 1029h16v8h-16zM1394 1029h8v8h-8zM1338 1037h56v8h-56zM1338 1045h8v8h-8zM706 1053h8v8h-8zM866 1053h24v8h-24zM1330 1053h8v8h-8zM722 1061h8v8h-8zM866 1061h24v8h-24zM1330 1061h8v8h-8zM1322 1069h16v8h-16zM898 1077h56v8h-56zM1322 1077h8v8h-8zM898 1085h16v8h-16zM1314 1085h16v8h-16zM890 1093h16v8h-16zM1314 1093h8v8h-8zM1322 1101h8v8h-8zM1322 1109h8v8h-8zM1330 1117h8v8h-8zM1330 1125h8v8h-8zM1330 1133h8v8h-8zM1034 1141h8v8h-8zM1338 1141h48v8h-48zM1394 1141h8v8h-8zM1138 1149h16v8h-16zM1106 1157h16v8h-16zM1170 1157h8v8h-8zM1426 1157h8v8h-8zM1098 1165h8v8h-8zM1186 1165h16v8h-16zM1098 1173h8v8h-8zM1202 1173h24v8h-24zM1234 1173h24v8h-24zM1274 1173h8v8h-8zM1442 1173h8v8h-8zM1106 1181h8v8h-8zM1218 1181h24v8h-24zM1114 1189h8v8h-8zM1226 1189h8v8h-8zM1282 1189h8v8h-8zM1290 1197h8v8h-8zM1298 1205h8v8h-8zM722 1213h32v8h-32zM1306 1213h8v8h-8zM674 1221h80v8h-80zM1314 1221h16v8h-16zM730 1229h24v8h-24zM1330 1229h16v8h-16zM746 1237h8v8h-8zM1346 1237h8v8h-8zM746 1245h8v8h-8zM1354 1245h8v8h-8zM746 1253h8v8h-8zM1362 1253h8v8h-8zM746 1261h8v8h-8zM1354 1261h8v8h-8zM746 1269h8v8h-8zM1338 1269h16v8h-16zM746 1277h8v8h-8zM1330 1277h8v8h-8zM746 1285h8v8h-8zM1314 1285h8v8h-8zM746 1293h8v8h-8zM1178 1293h8v8h-8zM1298 1293h8v8h-8zM746 1301h8v8h-8zM746 1309h8v8h-8zM746 1317h8v8h-8zM746 1325h8v8h-8zM1578 1325h72v8h-72zM746 1333h8v8h-8zM1562 1333h88v8h-88zM746 1341h8v8h-8zM1554 1341h96v8h-96zM746 1349h8v8h-8zM1554 1349h96v8h-96z"/><path fill="#b5f74a" d="M930 741h8v8h-8zM1466 741h16v8h-16zM930 749h8v8h-8zM1466 749h16v8h-16zM930 757h8v8h-8zM1466 757h16v8h-16zM930 765h8v8h-8zM1466 765h16v8h-16zM1466 773h16v8h-16zM954 781h8v8h-8zM1066 797h8v8h-8zM1082 805h8v8h-8zM1130 805h8v8h-8zM1162 813h8v8h-8zM1458 813h8v8h-8zM1082 821h8v8h-8zM1074 829h8v8h-8zM1130 829h8v8h-8zM1362 837h8v8h-8zM1442 837h8v8h-8zM1434 853h8v8h-8zM1098 925h8v8h-8zM1386 965h8v8h-8zM730 973h8v8h-8zM1186 1021h8v8h-8zM1402 1029h8v8h-8zM714 1053h8v8h-8zM1338 1053h8v8h-8zM890 1061h8v8h-8zM874 1069h32v8h-32zM890 1077h8v8h-8zM890 1085h8v8h-8zM1322 1093h8v8h-8zM1018 1133h8v8h-8zM1034 1133h8v8h-8zM1122 1157h8v8h-8zM1162 1157h8v8h-8zM1106 1165h8v8h-8zM1210 1181h8v8h-8zM1218 1189h8v8h-8zM1122 1197h8v8h-8zM674 1229h56v8h-56zM738 1237h8v8h-8zM1170 1277h8v8h-8zM1322 1277h8v8h-8zM1178 1285h8v8h-8z"/><path fill="#adf74a" d="M938 741h8v8h-8zM994 741h8v8h-8zM1058 741h8v8h-8zM1482 741h16v8h-16zM938 749h8v8h-8zM994 749h8v8h-8zM1058 749h8v8h-8zM1482 749h16v8h-16zM938 757h8v8h-8zM994 757h8v8h-8zM1058 757h8v8h-8zM1482 757h16v8h-16zM938 765h8v8h-8zM994 765h8v8h-8zM1058 765h8v8h-8zM1482 765h16v8h-16zM938 773h8v8h-8zM994 773h8v8h-8zM1058 773h8v8h-8zM1482 773h16v8h-16zM962 781h16v8h-16zM994 781h8v8h-8zM1058 781h8v8h-8zM1458 781h8v8h-8zM1482 781h16v8h-16zM978 789h16v8h-16zM1066 789h8v8h-8zM1146 789h8v8h-8zM1458 789h8v8h-8zM1482 789h16v8h-16zM1074 797h16v8h-16zM1130 797h32v8h-32zM1458 797h8v8h-8zM1482 797h16v8h-16zM1090 805h40v8h-40zM1154 805h16v8h-16zM1458 805h8v8h-8zM1482 805h16v8h-16zM1106 813h8v8h-8zM1170 813h8v8h-8zM1490 813h16v8h-16zM1090 821h16v8h-16zM1114 821h16v8h-16zM1450 821h8v8h-8zM1522 821h8v8h-8zM1082 829h8v8h-8zM1122 829h8v8h-8zM1442 829h8v8h-8zM1578 829h72v8h-72zM1074 837h8v8h-8zM1130 837h8v8h-8zM1370 837h16v8h-16zM1074 845h8v8h-8zM1130 845h8v8h-8zM1386 845h24v8h-24zM1434 845h8v8h-8zM1402 853h16v8h-16zM1074 861h8v8h-8zM1146 861h8v8h-8zM1418 861h16v8h-16zM1082 869h8v8h-8zM1090 877h8v8h-8zM1258 885h8v8h-8zM1098 893h8v8h-8zM1266 893h8v8h-8zM1098 901h8v8h-8zM1258 901h8v8h-8zM1098 909h8v8h-8zM1098 917h8v8h-8zM1098 933h8v8h-8zM1266 965h8v8h-8zM738 973h24v8h-24zM890 973h8v8h-8zM978 973h8v8h-8zM1378 973h8v8h-8zM1394 973h8v8h-8zM674 981h48v8h-48zM898 981h8v8h-8zM962 981h8v8h-8zM1266 981h8v8h-8zM1386 981h8v8h-8zM1250 997h8v8h-8zM1426 1005h16v8h-16zM1194 1013h8v8h-8zM1418 1013h8v8h-8zM1458 1013h24v8h-24zM1546 1013h104v8h-104zM1410 1021h8v8h-8zM1394 1037h8v8h-8zM674 1045h40v8h-40zM1346 1045h48v8h-48zM890 1053h16v8h-16zM730 1061h8v8h-8zM898 1061h24v8h-24zM1338 1061h8v8h-8zM858 1069h16v8h-16zM906 1069h40v8h-40zM1338 1069h8v8h-8zM858 1077h32v8h-32zM1330 1077h16v8h-16zM866 1085h8v8h-8zM882 1085h8v8h-8zM1330 1085h8v8h-8zM874 1093h16v8h-16zM1330 1093h8v8h-8zM1330 1101h8v8h-8zM1330 1109h16v8h-16zM1034 1117h8v8h-8zM1338 1117h8v8h-8zM1018 1125h8v8h-8zM1034 1125h8v8h-8zM1338 1125h8v8h-8zM1338 1133h8v8h-8zM1370 1133h24v8h-24zM1026 1141h8v8h-8zM1402 1141h8v8h-8zM1418 1149h8v8h-8zM1130 1157h16v8h-16zM1154 1157h8v8h-8zM1434 1157h8v8h-8zM1114 1165h8v8h-8zM1170 1165h16v8h-16zM1442 1165h8v8h-8zM1106 1173h8v8h-8zM1186 1173h16v8h-16zM1258 1173h16v8h-16zM1114 1181h8v8h-8zM1202 1181h8v8h-8zM1242 1181h16v8h-16zM1274 1181h8v8h-8zM1122 1189h8v8h-8zM1202 1189h16v8h-16zM1234 1189h16v8h-16zM1210 1197h32v8h-32zM1282 1197h8v8h-8zM1226 1205h8v8h-8zM1290 1205h8v8h-8zM1130 1213h8v8h-8zM1298 1213h8v8h-8zM1130 1221h8v8h-8zM1306 1221h8v8h-8zM1314 1229h16v8h-16zM674 1237h64v8h-64zM1330 1237h16v8h-16zM730 1245h16v8h-16zM1346 1245h8v8h-8zM738 1253h8v8h-8zM1354 1253h8v8h-8zM738 1261h8v8h-8zM1346 1261h8v8h-8zM738 1269h8v8h-8zM1162 1269h8v8h-8zM1330 1269h8v8h-8zM738 1277h8v8h-8zM1178 1277h8v8h-8zM1314 1277h8v8h-8zM738 1285h8v8h-8zM1298 1285h16v8h-16zM738 1293h8v8h-8zM1186 1293h8v8h-8zM1290 1293h8v8h-8zM738 1301h8v8h-8zM738 1309h8v8h-8zM738 1317h8v8h-8zM738 1325h8v8h-8zM738 1333h8v8h-8zM738 1341h8v8h-8zM738 1349h8v8h-8z"/><path fill="#adff4a" d="M946 741h16v8h-16zM1498 741h16v8h-16zM946 749h16v8h-16zM1498 749h16v8h-16zM946 757h16v8h-16zM1498 757h16v8h-16zM946 765h16v8h-16zM1498 765h16v8h-16zM946 773h16v8h-16zM1498 773h16v8h-16zM978 781h8v8h-8zM1498 781h8v8h-8zM1498 789h8v8h-8zM1498 797h8v8h-8zM906 1053h8v8h-8zM1346 1053h16v8h-16zM1346 1061h8v8h-8zM874 1085h8v8h-8zM1338 1085h8v8h-8zM1194 1181h8v8h-8zM1194 1189h8v8h-8zM1202 1197h8v8h-8zM1210 1205h16v8h-16zM1226 1213h8v8h-8zM714 1245h16v8h-16zM722 1253h16v8h-16zM722 1261h16v8h-16zM722 1269h16v8h-16zM722 1277h16v8h-16zM722 1285h16v8h-16zM722 1293h16v8h-16zM722 1301h16v8h-16zM722 1309h16v8h-16zM722 1317h16v8h-16zM722 1325h16v8h-16zM722 1333h16v8h-16zM722 1341h16v8h-16zM722 1349h16v8h-16z"/><path fill="#a5ff52" d="M962 741h32v8h-32zM1066 741h8v8h-8zM1146 741h8v8h-8zM1514 741h8v8h-8zM962 749h32v8h-32zM1066 749h8v8h-8zM1146 749h8v8h-8zM1514 749h8v8h-8zM962 757h32v8h-32zM1066 757h8v8h-8zM1146 757h8v8h-8zM1514 757h8v8h-8zM962 765h32v8h-32zM1066 765h8v8h-8zM1146 765h8v8h-8zM1514 765h8v8h-8zM970 773h24v8h-24zM1066 773h8v8h-8zM1146 773h8v8h-8zM1514 773h8v8h-8zM1066 781h16v8h-16zM1138 781h16v8h-16zM1514 781h8v8h-8zM1082 789h16v8h-16zM1122 789h16v8h-16zM1154 789h8v8h-8zM1506 789h16v8h-16zM1090 797h40v8h-40zM1162 797h8v8h-8zM1450 797h8v8h-8zM1506 797h16v8h-16zM1170 805h8v8h-8zM1506 805h8v8h-8zM1098 829h8v8h-8zM1394 837h16v8h-16zM1082 845h8v8h-8zM1410 845h16v8h-16zM1418 853h16v8h-16zM1106 893h8v8h-8zM1106 901h8v8h-8zM1106 909h8v8h-8zM1106 917h8v8h-8zM1106 925h8v8h-8zM1106 933h8v8h-8zM738 981h8v8h-8zM1186 1013h8v8h-8zM1426 1013h24v8h-24zM1442 1021h40v8h-40zM1538 1021h112v8h-112zM1418 1029h8v8h-8zM1458 1029h16v8h-16zM1402 1045h8v8h-8zM914 1053h8v8h-8zM1362 1053h32v8h-32zM1354 1061h40v8h-40zM1346 1069h48v8h-48zM1346 1077h48v8h-48zM1346 1085h48v8h-48zM1338 1093h56v8h-56zM1346 1101h48v8h-48zM1346 1109h56v8h-56zM1346 1117h56v8h-56zM1346 1125h40v8h-40zM1394 1125h8v8h-8zM1346 1133h24v8h-24zM1586 1133h64v8h-64zM1114 1173h8v8h-8zM1178 1173h8v8h-8zM1178 1181h8v8h-8zM1258 1181h16v8h-16zM1178 1189h16v8h-16zM1250 1189h16v8h-16zM1178 1197h24v8h-24zM1242 1197h16v8h-16zM1186 1205h24v8h-24zM1234 1205h16v8h-16zM1186 1213h32v8h-32zM1234 1213h8v8h-8zM1186 1221h48v8h-48zM1290 1221h8v8h-8zM1298 1229h8v8h-8zM1314 1237h8v8h-8zM674 1245h40v8h-40zM1330 1245h16v8h-16zM674 1253h48v8h-48zM1346 1253h8v8h-8zM674 1261h48v8h-48zM674 1269h48v8h-48zM1186 1269h8v8h-8zM674 1277h48v8h-48zM1186 1277h8v8h-8zM1298 1277h8v8h-8zM674 1285h48v8h-48zM1186 1285h16v8h-16zM1282 1285h16v8h-16zM674 1293h48v8h-48zM674 1301h48v8h-48zM674 1309h48v8h-48zM674 1317h48v8h-48zM674 1325h48v8h-48zM674 1333h48v8h-48zM674 1341h48v8h-48zM674 1349h48v8h-48z"/><path fill="#bdf742" d="M1010 741h8v8h-8zM1042 741h8v8h-8zM1010 749h8v8h-8zM1042 749h8v8h-8zM1010 757h8v8h-8zM1042 757h8v8h-8zM1010 765h8v8h-8zM1042 765h8v8h-8zM1010 773h8v8h-8zM1042 773h8v8h-8zM930 781h8v8h-8zM1002 797h8v8h-8zM1050 797h8v8h-8zM978 805h8v8h-8zM994 805h8v8h-8zM1058 805h8v8h-8zM1066 813h8v8h-8zM1466 813h8v8h-8zM1162 821h8v8h-8zM1458 821h8v8h-8zM1370 845h8v8h-8zM1386 853h8v8h-8zM1074 869h8v8h-8zM1410 869h8v8h-8zM1090 893h8v8h-8zM706 973h8v8h-8zM930 981h8v8h-8zM1266 997h8v8h-8zM1434 997h8v8h-8zM1362 1029h8v8h-8zM674 1053h32v8h-32zM1322 1061h8v8h-8zM914 1085h8v8h-8zM1314 1101h8v8h-8zM1018 1141h8v8h-8zM1026 1149h8v8h-8zM1122 1149h16v8h-16zM1434 1165h8v8h-8zM1226 1173h8v8h-8zM1282 1181h8v8h-8zM714 1213h8v8h-8zM1330 1221h8v8h-8zM1346 1229h8v8h-8zM1354 1237h8v8h-8zM1362 1245h8v8h-8zM754 1253h8v8h-8zM754 1261h8v8h-8zM1362 1261h8v8h-8zM754 1269h8v8h-8zM754 1277h8v8h-8zM754 1285h8v8h-8zM754 1293h8v8h-8zM1306 1293h8v8h-8zM754 1301h8v8h-8zM754 1309h8v8h-8zM754 1317h8v8h-8zM754 1325h8v8h-8zM1570 1325h8v8h-8zM754 1333h8v8h-8zM1554 1333h8v8h-8zM754 1341h8v8h-8zM1546 1341h8v8h-8zM754 1349h8v8h-8zM1546 1349h8v8h-8z"/><path fill="#9cff5a" d="M1074 741h16v8h-16zM1130 741h16v8h-16zM1450 741h8v8h-8zM1522 741h8v8h-8zM1074 749h16v8h-16zM1130 749h16v8h-16zM1450 749h8v8h-8zM1522 749h8v8h-8zM1074 757h16v8h-16zM1130 757h16v8h-16zM1450 757h8v8h-8zM1522 757h8v8h-8zM1074 765h16v8h-16zM1130 765h16v8h-16zM1450 765h8v8h-8zM1522 765h8v8h-8zM1074 773h16v8h-16zM1130 773h16v8h-16zM1154 773h8v8h-8zM1450 773h8v8h-8zM1522 773h8v8h-8zM1082 781h16v8h-16zM1122 781h16v8h-16zM1154 781h8v8h-8zM1450 781h8v8h-8zM1522 781h8v8h-8zM1098 789h24v8h-24zM1162 789h8v8h-8zM1522 789h8v8h-8zM1170 797h8v8h-8zM1442 797h8v8h-8zM1522 797h8v8h-8zM1178 805h8v8h-8zM1442 805h8v8h-8zM1514 805h16v8h-16zM1202 813h8v8h-8zM1442 813h8v8h-8zM1522 813h8v8h-8zM1354 821h8v8h-8zM1434 821h8v8h-8zM1106 829h8v8h-8zM1386 829h32v8h-32zM1090 837h8v8h-8zM1114 837h8v8h-8zM1410 837h24v8h-24zM1082 853h8v8h-8zM1106 885h8v8h-8zM1106 941h8v8h-8zM842 973h8v8h-8zM746 981h40v8h-40zM722 989h16v8h-16zM674 997h48v8h-48zM1426 1021h8v8h-8zM1490 1021h16v8h-16zM1522 1021h16v8h-16zM674 1029h40v8h-40zM1426 1029h24v8h-24zM1482 1029h8v8h-8zM1538 1029h112v8h-112zM714 1037h8v8h-8zM1418 1037h8v8h-8zM1442 1037h24v8h-24zM1474 1037h8v8h-8zM722 1045h8v8h-8zM898 1045h16v8h-16zM1410 1045h8v8h-8zM1450 1045h32v8h-32zM922 1053h8v8h-8zM1394 1053h16v8h-16zM1466 1053h8v8h-8zM1394 1061h16v8h-16zM1394 1069h16v8h-16zM1394 1077h16v8h-16zM1394 1085h16v8h-16zM1394 1093h16v8h-16zM1394 1101h16v8h-16zM1026 1109h8v8h-8zM1402 1109h8v8h-8zM1402 1117h8v8h-8zM1586 1117h64v8h-64zM1402 1125h8v8h-8zM1578 1125h72v8h-72zM1402 1133h16v8h-16zM1570 1133h16v8h-16zM1578 1141h72v8h-72zM1586 1149h64v8h-64zM1130 1173h8v8h-8zM1162 1173h16v8h-16zM1130 1181h8v8h-8zM1170 1181h8v8h-8zM1170 1189h8v8h-8zM1266 1189h8v8h-8zM1170 1197h8v8h-8zM1258 1197h16v8h-16zM1170 1205h16v8h-16zM1250 1205h8v8h-8zM1274 1205h8v8h-8zM1170 1213h16v8h-16zM1242 1213h8v8h-8zM1282 1213h8v8h-8zM1170 1221h16v8h-16zM1234 1221h16v8h-16zM1282 1221h8v8h-8zM1178 1229h64v8h-64zM1290 1229h8v8h-8zM1178 1237h48v8h-48zM1298 1237h16v8h-16zM1178 1245h32v8h-32zM1314 1245h16v8h-16zM1178 1253h24v8h-24zM1330 1253h8v8h-8zM1178 1261h24v8h-24zM1314 1261h16v8h-16zM1194 1269h16v8h-16zM1290 1269h24v8h-24zM1194 1277h16v8h-16zM1274 1277h24v8h-24zM1202 1285h8v8h-8zM1266 1285h16v8h-16zM1210 1293h8v8h-8zM1258 1293h16v8h-16z"/><path fill="#94ff63" d="M1090 741h16v8h-16zM1114 741h16v8h-16zM1442 741h8v8h-8zM1538 741h8v8h-8zM1090 749h16v8h-16zM1114 749h16v8h-16zM1442 749h8v8h-8zM1538 749h8v8h-8zM1090 757h16v8h-16zM1114 757h16v8h-16zM1442 757h8v8h-8zM1538 757h8v8h-8zM1090 765h16v8h-16zM1114 765h16v8h-16zM1442 765h8v8h-8zM1538 765h8v8h-8zM1090 773h16v8h-16zM1114 773h16v8h-16zM1442 773h8v8h-8zM1530 773h16v8h-16zM1098 781h24v8h-24zM1162 781h8v8h-8zM1442 781h8v8h-8zM1530 781h16v8h-16zM1170 789h8v8h-8zM1442 789h8v8h-8zM1530 789h16v8h-16zM1178 797h8v8h-8zM1530 797h16v8h-16zM1194 805h8v8h-8zM1434 805h8v8h-8zM1530 805h16v8h-16zM1210 813h16v8h-16zM1434 813h8v8h-8zM1530 813h16v8h-16zM1362 821h72v8h-72zM1418 829h16v8h-16zM1106 837h8v8h-8zM1114 845h8v8h-8zM1090 853h8v8h-8zM1098 869h8v8h-8zM1106 877h8v8h-8zM1114 885h8v8h-8zM1114 893h8v8h-8zM1242 893h8v8h-8zM1114 901h8v8h-8zM1114 909h8v8h-8zM1114 917h8v8h-8zM1114 925h8v8h-8zM1114 933h8v8h-8zM1106 949h8v8h-8zM850 973h16v8h-16zM1002 973h8v8h-8zM826 981h16v8h-16zM994 981h8v8h-8zM738 989h24v8h-24zM978 989h8v8h-8zM722 997h8v8h-8zM674 1005h40v8h-40zM1186 1005h8v8h-8zM674 1021h40v8h-40zM1506 1021h8v8h-8zM714 1029h8v8h-8zM1490 1029h16v8h-16zM1514 1029h16v8h-16zM722 1037h8v8h-8zM890 1037h8v8h-8zM1426 1037h16v8h-16zM1482 1037h16v8h-16zM1530 1037h24v8h-24zM730 1045h8v8h-8zM914 1045h16v8h-16zM1418 1045h32v8h-32zM1482 1045h8v8h-8zM1546 1045h104v8h-104zM738 1053h8v8h-8zM938 1053h8v8h-8zM1410 1053h16v8h-16zM1442 1053h16v8h-16zM1474 1053h8v8h-8zM1410 1061h16v8h-16zM1442 1061h40v8h-40zM1410 1069h16v8h-16zM1450 1069h32v8h-32zM1410 1077h16v8h-16zM1458 1077h16v8h-16zM1410 1085h16v8h-16zM1410 1093h16v8h-16zM1026 1101h8v8h-8zM1410 1101h16v8h-16zM1586 1101h64v8h-64zM1410 1109h16v8h-16zM1570 1109h80v8h-80zM1410 1117h16v8h-16zM1562 1117h24v8h-24zM1410 1125h16v8h-16zM1562 1125h16v8h-16zM1418 1133h8v8h-8zM1562 1133h8v8h-8zM1434 1141h8v8h-8zM1562 1141h16v8h-16zM1450 1149h8v8h-8zM1562 1149h24v8h-24zM1570 1157h80v8h-80zM1458 1165h8v8h-8zM1586 1165h64v8h-64zM1138 1173h8v8h-8zM1154 1173h8v8h-8zM1138 1181h8v8h-8zM1154 1181h16v8h-16zM1138 1189h8v8h-8zM1154 1189h16v8h-16zM1154 1197h16v8h-16zM1154 1205h16v8h-16zM1258 1205h16v8h-16zM1154 1213h16v8h-16zM1258 1213h8v8h-8zM1274 1213h8v8h-8zM1162 1221h8v8h-8zM1250 1221h16v8h-16zM1274 1221h8v8h-8zM1162 1229h16v8h-16zM1242 1229h16v8h-16zM1274 1229h16v8h-16zM1162 1237h16v8h-16zM1226 1237h32v8h-32zM1282 1237h16v8h-16zM1162 1245h16v8h-16zM1210 1245h32v8h-32zM1290 1245h24v8h-24zM1146 1253h32v8h-32zM1202 1253h16v8h-16zM1314 1253h16v8h-16zM1202 1261h16v8h-16zM1282 1261h32v8h-32zM1210 1269h8v8h-8zM1258 1269h32v8h-32zM1210 1277h16v8h-16zM1250 1277h24v8h-24zM1210 1285h16v8h-16zM1242 1285h24v8h-24zM1218 1293h8v8h-8zM1234 1293h24v8h-24z"/><path fill="#8cff6b" d="M1106 741h8v8h-8zM1162 741h8v8h-8zM1546 741h104v8h-104zM1106 749h8v8h-8zM1162 749h8v8h-8zM1546 749h104v8h-104zM1106 757h8v8h-8zM1162 757h8v8h-8zM1546 757h104v8h-104zM1106 765h8v8h-8zM1162 765h8v8h-8zM1546 765h104v8h-104zM1106 773h8v8h-8zM1162 773h8v8h-8zM1546 773h104v8h-104zM1170 781h8v8h-8zM1434 781h8v8h-8zM1546 781h104v8h-104zM1178 789h8v8h-8zM1434 789h8v8h-8zM1546 789h104v8h-104zM1186 797h16v8h-16zM1434 797h8v8h-8zM1546 797h104v8h-104zM1210 805h8v8h-8zM1426 805h8v8h-8zM1546 805h104v8h-104zM1226 813h16v8h-16zM1338 813h96v8h-96zM1546 813h104v8h-104zM1098 845h16v8h-16zM1098 853h8v8h-8zM1114 853h8v8h-8zM1098 861h8v8h-8zM1114 861h8v8h-8zM1106 869h16v8h-16zM1122 877h8v8h-8zM1114 941h8v8h-8zM1114 949h8v8h-8zM1106 957h8v8h-8zM1090 965h8v8h-8zM866 973h8v8h-8zM1010 973h8v8h-8zM850 981h8v8h-8zM874 981h8v8h-8zM1002 981h8v8h-8zM762 989h80v8h-80zM882 989h8v8h-8zM986 989h16v8h-16zM730 997h16v8h-16zM714 1005h16v8h-16zM1178 1005h8v8h-8zM674 1013h40v8h-40zM1066 1013h16v8h-16zM1170 1013h8v8h-8zM714 1021h8v8h-8zM722 1029h8v8h-8zM1506 1029h8v8h-8zM730 1037h8v8h-8zM906 1037h24v8h-24zM1498 1037h32v8h-32zM738 1045h8v8h-8zM930 1045h16v8h-16zM1490 1045h8v8h-8zM1522 1045h24v8h-24zM746 1053h8v8h-8zM946 1053h8v8h-8zM1426 1053h16v8h-16zM1482 1053h16v8h-16zM1538 1053h112v8h-112zM1426 1061h16v8h-16zM1482 1061h16v8h-16zM1538 1061h112v8h-112zM1426 1069h24v8h-24zM1482 1069h16v8h-16zM1538 1069h112v8h-112zM1426 1077h32v8h-32zM1474 1077h24v8h-24zM1530 1077h120v8h-120zM1426 1085h224v8h-224zM1026 1093h8v8h-8zM1426 1093h224v8h-224zM1426 1101h160v8h-160zM1426 1109h24v8h-24zM1530 1109h40v8h-40zM1426 1117h16v8h-16zM1538 1117h24v8h-24zM1426 1125h16v8h-16zM1538 1125h24v8h-24zM1426 1133h16v8h-16zM1538 1133h16v8h-16zM1442 1141h16v8h-16zM1538 1141h24v8h-24zM1458 1149h8v8h-8zM1538 1149h24v8h-24zM1458 1157h8v8h-8zM1538 1157h32v8h-32zM1466 1165h8v8h-8zM1538 1165h48v8h-48zM1146 1173h8v8h-8zM1466 1173h16v8h-16zM1538 1173h112v8h-112zM1146 1181h8v8h-8zM1146 1189h8v8h-8zM1146 1197h8v8h-8zM1146 1205h8v8h-8zM1146 1213h8v8h-8zM1266 1213h8v8h-8zM1146 1221h8v8h-8zM1266 1221h8v8h-8zM1146 1229h16v8h-16zM1258 1229h16v8h-16zM1146 1237h16v8h-16zM1258 1237h24v8h-24zM1146 1245h16v8h-16zM1242 1245h48v8h-48zM1218 1253h96v8h-96zM1218 1261h56v8h-56zM1226 1269h32v8h-32zM1226 1277h24v8h-24zM1226 1285h16v8h-16zM1226 1293h8v8h-8z"/><path fill="#9cff63" d="M1154 741h8v8h-8zM1530 741h8v8h-8zM1154 749h8v8h-8zM1530 749h8v8h-8zM1154 757h8v8h-8zM1530 757h8v8h-8zM1154 765h8v8h-8zM1530 765h8v8h-8zM1186 805h8v8h-8zM1098 837h8v8h-8zM1090 845h8v8h-8zM786 981h40v8h-40zM986 981h8v8h-8zM1178 1013h8v8h-8zM1514 1021h8v8h-8zM1530 1029h8v8h-8zM1554 1037h96v8h-96zM930 1053h8v8h-8zM1458 1053h8v8h-8zM1250 1213h8v8h-8z"/><path fill="#84ff73" d="M1170 741h8v8h-8zM1434 741h8v8h-8zM1170 749h8v8h-8zM1434 749h8v8h-8zM1170 757h8v8h-8zM1434 757h8v8h-8zM1170 765h8v8h-8zM1434 765h8v8h-8zM1170 773h8v8h-8zM1434 773h8v8h-8zM1178 781h8v8h-8zM1426 781h8v8h-8zM1186 789h8v8h-8zM1418 789h16v8h-16zM1202 797h16v8h-16zM1394 797h40v8h-40zM1218 805h24v8h-24zM1338 805h80v8h-80zM1242 813h24v8h-24zM1314 813h24v8h-24zM1106 853h8v8h-8zM1106 861h8v8h-8zM1122 893h8v8h-8zM1122 901h8v8h-8zM1234 901h8v8h-8zM1122 909h8v8h-8zM1122 917h8v8h-8zM1122 925h8v8h-8zM1122 933h8v8h-8zM1122 941h8v8h-8zM1114 957h8v8h-8zM1098 965h16v8h-16zM1018 973h8v8h-8zM858 981h16v8h-16zM1010 981h8v8h-8zM842 989h16v8h-16zM874 989h8v8h-8zM1002 989h8v8h-8zM1066 989h16v8h-16zM746 997h88v8h-88zM978 997h16v8h-16zM1058 997h32v8h-32zM1186 997h8v8h-8zM730 1005h8v8h-8zM1058 1005h40v8h-40zM1170 1005h8v8h-8zM714 1013h16v8h-16zM1050 1013h16v8h-16zM1082 1013h24v8h-24zM1162 1013h8v8h-8zM722 1021h16v8h-16zM730 1029h16v8h-16zM866 1029h48v8h-48zM738 1037h8v8h-8zM930 1037h16v8h-16zM746 1045h8v8h-8zM946 1045h8v8h-8zM1498 1045h24v8h-24zM754 1053h8v8h-8zM954 1053h8v8h-8zM1498 1053h8v8h-8zM1514 1053h24v8h-24zM1498 1061h8v8h-8zM1514 1061h24v8h-24zM1498 1069h32v8h-32zM1506 1077h16v8h-16zM1458 1109h64v8h-64zM1450 1117h80v8h-80zM1442 1125h24v8h-24zM1514 1125h24v8h-24zM1442 1133h24v8h-24zM1522 1133h16v8h-16zM1458 1141h8v8h-8zM1522 1141h16v8h-16zM1466 1149h16v8h-16zM1522 1149h16v8h-16zM1466 1157h24v8h-24zM1522 1157h16v8h-16zM1474 1165h24v8h-24zM1522 1165h16v8h-16zM1490 1173h16v8h-16zM1514 1173h16v8h-16z"/><path fill="#73ff84" d="M1178 741h8v8h-8zM1402 741h16v8h-16zM1178 749h8v8h-8zM1402 749h16v8h-16zM1178 757h8v8h-8zM1402 757h16v8h-16zM1178 765h8v8h-8zM1402 765h16v8h-16zM1394 773h24v8h-24zM1194 781h24v8h-24zM1378 781h32v8h-32zM1218 789h40v8h-40zM1322 789h56v8h-56zM1250 797h80v8h-80zM1266 805h48v8h-48zM1130 893h8v8h-8zM1130 901h8v8h-8zM1130 909h8v8h-8zM1226 909h8v8h-8zM1130 917h8v8h-8zM1226 917h8v8h-8zM1130 925h8v8h-8zM1226 925h8v8h-8zM1130 933h8v8h-8zM1130 941h8v8h-8zM1130 949h8v8h-8zM1130 957h8v8h-8zM1130 965h8v8h-8zM1122 973h16v8h-16zM1122 981h16v8h-16zM1026 989h8v8h-8zM1122 989h16v8h-16zM1170 989h24v8h-24zM858 997h16v8h-16zM1018 997h24v8h-24zM1122 997h16v8h-16zM1154 997h16v8h-16zM770 1005h88v8h-88zM882 1005h24v8h-24zM986 1005h56v8h-56zM1122 1005h16v8h-16zM1154 1005h8v8h-8zM738 1013h8v8h-8zM1034 1013h8v8h-8zM1130 1013h24v8h-24zM746 1021h16v8h-16zM858 1021h104v8h-104zM1034 1021h8v8h-8zM754 1029h16v8h-16zM850 1029h8v8h-8zM954 1029h16v8h-16zM762 1037h8v8h-8zM962 1037h8v8h-8zM762 1045h8v8h-8zM962 1045h8v8h-8z"/><path fill="#6bff8c" d="M1186 741h24v8h-24zM1370 741h32v8h-32zM1186 749h24v8h-24zM1370 749h32v8h-32zM1186 757h24v8h-24zM1370 757h32v8h-32zM1186 765h24v8h-24zM1370 765h32v8h-32zM1186 773h32v8h-32zM1362 773h32v8h-32zM1218 781h152v8h-152zM1258 789h64v8h-64zM1218 901h8v8h-8zM1218 909h8v8h-8zM1218 917h8v8h-8zM1226 933h8v8h-8zM1138 949h8v8h-8zM1138 957h8v8h-8zM1138 965h8v8h-8zM1138 973h16v8h-16zM1138 981h32v8h-32zM1138 989h32v8h-32zM1138 997h16v8h-16zM858 1005h24v8h-24zM1138 1005h16v8h-16zM746 1013h120v8h-120zM890 1013h144v8h-144zM762 1021h24v8h-24zM834 1021h24v8h-24zM962 1021h24v8h-24zM1026 1021h8v8h-8zM770 1029h8v8h-8zM842 1029h8v8h-8zM970 1029h8v8h-8zM770 1037h8v8h-8zM970 1037h8v8h-8zM770 1045h8v8h-8zM970 1045h8v8h-8zM970 1053h8v8h-8z"/><path fill="#63ff94" d="M1210 741h160v8h-160zM1210 749h160v8h-160zM1210 757h160v8h-160zM1210 765h160v8h-160zM1218 773h144v8h-144zM1218 925h8v8h-8zM1218 933h8v8h-8zM1138 941h8v8h-8zM1146 957h8v8h-8zM1154 965h8v8h-8zM1154 973h16v8h-16zM1178 981h8v8h-8zM866 1013h16v8h-16zM794 1021h40v8h-40zM994 1021h32v8h-32zM778 1029h64v8h-64zM978 1029h56v8h-56zM778 1037h8v8h-8zM978 1037h8v8h-8zM1026 1037h8v8h-8zM778 1045h8v8h-8zM978 1045h8v8h-8z"/><path fill="#7bff7b" d="M1418 741h16v8h-16zM1418 749h16v8h-16zM1418 757h16v8h-16zM1418 765h16v8h-16zM1178 773h8v8h-8zM1418 773h16v8h-16zM1410 781h16v8h-16zM1194 789h24v8h-24zM1386 789h32v8h-32zM1218 797h32v8h-32zM1330 797h64v8h-64zM1242 805h24v8h-24zM1314 805h24v8h-24zM1266 813h48v8h-48zM1226 893h8v8h-8zM1226 901h8v8h-8zM1122 949h8v8h-8zM1122 957h8v8h-8zM1114 965h16v8h-16zM1026 973h96v8h-96zM1018 981h104v8h-104zM858 989h16v8h-16zM1010 989h16v8h-16zM1034 989h32v8h-32zM1082 989h40v8h-40zM834 997h24v8h-24zM874 997h16v8h-16zM994 997h24v8h-24zM1042 997h16v8h-16zM1090 997h32v8h-32zM1170 997h16v8h-16zM738 1005h24v8h-24zM962 1005h24v8h-24zM1042 1005h16v8h-16zM1098 1005h24v8h-24zM1162 1005h8v8h-8zM730 1013h8v8h-8zM1042 1013h8v8h-8zM1106 1013h24v8h-24zM1154 1013h8v8h-8zM738 1021h8v8h-8zM746 1029h8v8h-8zM858 1029h8v8h-8zM914 1029h40v8h-40zM746 1037h16v8h-16zM946 1037h16v8h-16zM754 1045h8v8h-8zM954 1045h8v8h-8zM762 1053h8v8h-8zM1506 1053h8v8h-8zM1466 1125h48v8h-48zM1466 1133h56v8h-56zM1466 1141h56v8h-56zM1482 1149h40v8h-40zM1490 1157h32v8h-32zM1498 1165h24v8h-24zM1506 1173h8v8h-8z"/><path fill="#a5f752" d="M1458 741h8v8h-8zM1458 749h8v8h-8zM1458 757h8v8h-8zM1458 765h8v8h-8zM1458 773h8v8h-8zM1450 805h8v8h-8zM1178 813h16v8h-16zM1450 813h8v8h-8zM1506 813h8v8h-8zM1106 821h8v8h-8zM1442 821h8v8h-8zM1530 821h16v8h-16zM1090 829h8v8h-8zM1114 829h8v8h-8zM1346 829h32v8h-32zM1082 837h8v8h-8zM1122 837h8v8h-8zM1386 837h8v8h-8zM1434 837h8v8h-8zM1130 853h8v8h-8zM1082 861h8v8h-8zM1138 861h8v8h-8zM1090 869h8v8h-8zM1098 885h8v8h-8zM1242 885h8v8h-8zM1258 893h8v8h-8zM1250 909h8v8h-8zM1098 941h8v8h-8zM1090 949h8v8h-8zM762 973h72v8h-72zM882 973h8v8h-8zM986 973h8v8h-8zM1266 973h8v8h-8zM1386 973h8v8h-8zM730 981h8v8h-8zM970 981h8v8h-8zM674 989h48v8h-48zM914 989h32v8h-32zM954 989h8v8h-8zM1258 989h8v8h-8zM1242 997h8v8h-8zM1210 1005h8v8h-8zM1482 1013h16v8h-16zM1522 1013h16v8h-16zM1178 1021h8v8h-8zM1418 1021h8v8h-8zM674 1037h40v8h-40zM1410 1037h8v8h-8zM714 1045h8v8h-8zM866 1045h32v8h-32zM1394 1045h8v8h-8zM722 1053h8v8h-8zM858 1053h8v8h-8zM738 1061h8v8h-8zM858 1061h8v8h-8zM922 1061h16v8h-16zM946 1069h16v8h-16zM866 1093h8v8h-8zM1018 1101h8v8h-8zM1018 1109h8v8h-8zM1026 1125h8v8h-8zM1026 1133h8v8h-8zM1394 1133h8v8h-8zM1410 1141h8v8h-8zM1426 1149h8v8h-8zM1442 1157h8v8h-8zM1122 1165h16v8h-16zM1162 1165h8v8h-8zM1122 1181h8v8h-8zM1274 1189h8v8h-8zM1130 1197h8v8h-8zM1274 1197h8v8h-8zM1282 1205h8v8h-8zM1290 1213h8v8h-8zM1306 1229h8v8h-8zM1322 1237h8v8h-8zM1330 1261h16v8h-16zM1170 1269h16v8h-16zM1314 1269h16v8h-16zM1306 1277h8v8h-8zM1194 1293h8v8h-8zM1274 1293h8v8h-8z"/><path fill="#dede19" d="M842 773h8v8h-8zM850 781h8v8h-8zM858 789h16v8h-16zM794 797h8v8h-8zM874 797h16v8h-16zM890 805h16v8h-16zM906 821h8v8h-8zM986 845h8v8h-8zM1466 845h16v8h-16zM970 853h8v8h-8zM1322 853h8v8h-8zM1570 853h16v8h-16zM898 861h32v8h-32zM954 861h8v8h-8zM1018 861h16v8h-16zM1274 861h16v8h-16zM1458 861h8v8h-8zM1034 869h8v8h-8zM1298 869h8v8h-8zM1322 869h8v8h-8zM1042 877h8v8h-8zM1306 877h8v8h-8zM1050 885h8v8h-8zM1066 909h8v8h-8zM1306 909h24v8h-24zM1290 917h8v8h-8zM1274 925h8v8h-8zM1370 933h8v8h-8zM1274 941h8v8h-8zM1354 941h8v8h-8zM1346 949h8v8h-8zM1338 957h8v8h-8zM1338 965h8v8h-8zM1330 973h8v8h-8zM1442 973h8v8h-8zM1322 989h8v8h-8zM1298 1013h8v8h-8zM1314 1013h8v8h-8zM1298 1021h16v8h-16zM1226 1029h24v8h-24zM1194 1045h8v8h-8zM674 1085h48v8h-48zM978 1093h8v8h-8zM954 1101h16v8h-16zM1146 1117h8v8h-8zM1170 1125h16v8h-16zM1074 1133h8v8h-8zM1194 1133h8v8h-8zM1290 1133h8v8h-8zM1210 1141h16v8h-16zM1274 1141h8v8h-8zM994 1149h8v8h-8zM994 1157h8v8h-8zM1370 1165h8v8h-8zM1002 1173h8v8h-8zM1322 1173h8v8h-8zM1410 1173h8v8h-8zM674 1181h80v8h-80zM1338 1181h16v8h-16zM1418 1181h8v8h-8zM1018 1189h24v8h-24zM1354 1189h8v8h-8zM1058 1197h8v8h-8zM1362 1197h8v8h-8zM1074 1205h8v8h-8zM1370 1213h8v8h-8zM1378 1221h8v8h-8zM1106 1229h8v8h-8zM1386 1229h8v8h-8zM1402 1237h8v8h-8zM1418 1245h8v8h-8zM1594 1261h56v8h-56zM1450 1269h8v8h-8zM1562 1269h16v8h-16zM1114 1277h8v8h-8zM1466 1277h88v8h-88zM1122 1285h8v8h-8zM1154 1301h8v8h-8zM1370 1301h16v8h-16zM1338 1309h16v8h-16zM1410 1309h8v8h-8zM1426 1317h8v8h-8zM1442 1325h8v8h-8z"/><path fill="#d6ef21" d="M866 773h8v8h-8zM938 813h8v8h-8zM938 821h16v8h-16zM938 829h16v8h-16zM930 837h40v8h-40zM930 845h32v8h-32zM1026 845h8v8h-8zM930 853h24v8h-24zM1346 861h8v8h-8zM1354 869h8v8h-8zM1354 877h8v8h-8zM1362 885h16v8h-16zM1306 893h8v8h-8zM1378 893h8v8h-8zM1386 901h8v8h-8zM1394 909h8v8h-8zM1394 917h8v8h-8zM1402 925h8v8h-8zM1402 933h8v8h-8zM1154 1133h8v8h-8zM1306 1141h8v8h-8zM1058 1165h8v8h-8zM1026 1173h8v8h-8zM1042 1173h32v8h-32zM786 1253h8v8h-8zM786 1261h8v8h-8zM1410 1261h8v8h-8zM786 1269h8v8h-8zM1402 1269h16v8h-16zM786 1277h8v8h-8zM1386 1277h40v8h-40zM786 1285h8v8h-8zM1410 1285h32v8h-32zM786 1293h8v8h-8zM1354 1293h8v8h-8zM1418 1293h128v8h-128zM786 1301h8v8h-8zM1442 1301h48v8h-48zM786 1309h8v8h-8zM1474 1309h16v8h-16zM786 1317h8v8h-8zM1482 1317h8v8h-8zM786 1325h8v8h-8zM1482 1325h8v8h-8zM786 1333h8v8h-8zM1482 1333h8v8h-8zM786 1341h8v8h-8zM1482 1341h8v8h-8zM786 1349h8v8h-8zM1482 1349h8v8h-8z"/><path fill="#adff52" d="M962 773h8v8h-8zM986 781h8v8h-8zM1506 781h8v8h-8zM1074 789h8v8h-8zM1138 789h8v8h-8zM1498 805h8v8h-8zM1338 1101h8v8h-8zM1386 1125h8v8h-8zM1186 1181h8v8h-8zM1218 1213h8v8h-8z"/><path fill="#ffa500" d="M674 781h40v8h-40zM1498 893h8v8h-8zM1490 901h8v8h-8zM1474 917h8v8h-8zM674 925h40v8h-40zM866 925h8v8h-8zM906 1141h8v8h-8zM834 1253h8v8h-8zM834 1261h8v8h-8zM834 1269h8v8h-8zM834 1277h8v8h-8zM834 1285h8v8h-8zM834 1293h8v8h-8z"/><path fill="#c5ef31" d="M898 781h8v8h-8zM914 789h16v8h-16zM938 797h8v8h-8zM954 805h8v8h-8zM962 813h8v8h-8zM978 821h40v8h-40zM1042 837h8v8h-8zM1154 837h8v8h-8zM1042 845h8v8h-8zM1346 845h8v8h-8zM1450 845h8v8h-8zM1362 853h8v8h-8zM1370 861h8v8h-8zM1442 861h8v8h-8zM1066 869h8v8h-8zM1378 869h8v8h-8zM1266 877h16v8h-16zM1434 877h8v8h-8zM1282 885h8v8h-8zM1402 885h8v8h-8zM1082 893h8v8h-8zM1290 893h8v8h-8zM1426 893h8v8h-8zM1082 901h8v8h-8zM1282 901h8v8h-8zM1426 901h8v8h-8zM1426 909h8v8h-8zM1386 949h16v8h-16zM1370 957h8v8h-8zM1402 957h16v8h-16zM1362 965h8v8h-8zM1410 965h8v8h-8zM906 973h16v8h-16zM954 973h8v8h-8zM1354 981h8v8h-8zM1418 981h8v8h-8zM1434 989h8v8h-8zM1274 997h8v8h-8zM1274 1005h8v8h-8zM1338 1005h8v8h-8zM1378 1005h8v8h-8zM1394 1005h8v8h-8zM1218 1013h8v8h-8zM1266 1013h8v8h-8zM1338 1013h8v8h-8zM1370 1013h8v8h-8zM1394 1013h8v8h-8zM1330 1021h8v8h-8zM1378 1021h16v8h-16zM1194 1029h8v8h-8zM1330 1029h8v8h-8zM1322 1037h8v8h-8zM1314 1045h8v8h-8zM1306 1053h8v8h-8zM674 1061h32v8h-32zM714 1069h8v8h-8zM946 1085h24v8h-24zM922 1093h8v8h-8zM1314 1125h8v8h-8zM1106 1133h8v8h-8zM1010 1141h8v8h-8zM1098 1141h8v8h-8zM1138 1141h24v8h-24zM1322 1141h8v8h-8zM1042 1149h8v8h-8zM1178 1149h8v8h-8zM1330 1149h16v8h-16zM1018 1157h8v8h-8zM1034 1157h8v8h-8zM1090 1157h8v8h-8zM1202 1157h16v8h-16zM1082 1165h8v8h-8zM1226 1165h8v8h-8zM1282 1165h8v8h-8zM1426 1165h8v8h-8zM1082 1173h8v8h-8zM1434 1173h8v8h-8zM1090 1181h8v8h-8zM1290 1181h8v8h-8zM1098 1189h8v8h-8zM1298 1189h8v8h-8zM738 1197h8v8h-8zM1106 1197h8v8h-8zM1306 1197h8v8h-8zM674 1205h40v8h-40zM1114 1205h8v8h-8zM1322 1205h16v8h-16zM1346 1213h8v8h-8zM1354 1221h8v8h-8zM1362 1229h8v8h-8zM762 1237h8v8h-8zM1370 1237h8v8h-8zM1378 1245h8v8h-8zM770 1253h8v8h-8zM1386 1253h8v8h-8zM770 1261h8v8h-8zM1378 1261h8v8h-8zM770 1269h8v8h-8zM1370 1269h8v8h-8zM770 1277h8v8h-8zM1354 1277h16v8h-16zM770 1285h8v8h-8zM1338 1285h8v8h-8zM770 1293h8v8h-8zM1170 1293h8v8h-8zM770 1301h8v8h-8zM1306 1301h8v8h-8zM770 1309h8v8h-8zM770 1317h8v8h-8zM1522 1317h8v8h-8zM770 1325h8v8h-8zM770 1333h8v8h-8zM770 1341h8v8h-8zM770 1349h8v8h-8z"/><path fill="#c5f73a" d="M906 781h8v8h-8zM1018 781h8v8h-8zM1034 781h8v8h-8zM930 789h8v8h-8zM1018 789h8v8h-8zM1034 789h8v8h-8zM1010 813h8v8h-8zM1042 813h8v8h-8zM1146 837h8v8h-8zM1050 845h8v8h-8zM1426 885h8v8h-8zM1362 973h8v8h-8zM1362 981h8v8h-8zM1362 989h8v8h-8zM1370 997h16v8h-16zM1266 1005h8v8h-8zM1354 1005h8v8h-8zM1370 1021h8v8h-8zM1394 1021h8v8h-8zM1322 1045h8v8h-8zM1314 1053h8v8h-8zM1314 1117h8v8h-8zM1114 1141h8v8h-8zM714 1205h8v8h-8zM1330 1213h8v8h-8zM1378 1253h8v8h-8zM1362 1269h8v8h-8zM1578 1309h8v8h-8zM1554 1317h8v8h-8zM1538 1325h8v8h-8zM1522 1333h8v8h-8zM1522 1341h8v8h-8zM1522 1349h8v8h-8z"/><path fill="#7bff84" d="M1186 781h8v8h-8zM1378 789h8v8h-8zM762 1005h8v8h-8zM962 1053h8v8h-8z"/><path fill="#73ff8c" d="M1370 781h8v8h-8z"/><path fill="#f7ad00" d="M714 789h8v8h-8zM674 797h40v8h-40zM674 805h40v8h-40zM738 853h32v8h-32zM1498 885h8v8h-8zM978 893h16v8h-16zM1482 893h8v8h-8zM674 901h40v8h-40zM866 901h8v8h-8zM954 901h32v8h-32zM994 901h8v8h-8zM1474 901h8v8h-8zM674 909h48v8h-48zM858 909h24v8h-24zM954 909h32v8h-32zM994 909h8v8h-8zM714 917h16v8h-16zM850 917h8v8h-8zM874 917h16v8h-16zM954 917h32v8h-32zM994 917h8v8h-8zM722 925h16v8h-16zM842 925h8v8h-8zM882 925h16v8h-16zM954 925h32v8h-32zM994 925h16v8h-16zM1098 1085h8v8h-8zM874 1141h16v8h-16zM922 1141h8v8h-8zM874 1149h24v8h-24zM914 1149h8v8h-8zM882 1157h32v8h-32zM890 1165h24v8h-24zM826 1229h8v8h-8zM834 1237h8v8h-8zM842 1245h8v8h-8zM850 1253h16v8h-16zM850 1261h16v8h-16zM850 1269h16v8h-16zM850 1277h16v8h-16zM850 1285h16v8h-16zM850 1293h16v8h-16zM842 1301h16v8h-16zM834 1309h16v8h-16zM834 1317h8v8h-8z"/><path fill="#efd610" d="M826 789h8v8h-8zM826 797h16v8h-16zM818 805h8v8h-8zM842 805h24v8h-24zM818 813h8v8h-8zM874 813h8v8h-8zM866 821h16v8h-16zM858 829h16v8h-16zM858 837h8v8h-8zM1298 853h8v8h-8zM1466 861h8v8h-8zM1338 933h8v8h-8zM1330 941h8v8h-8zM1306 997h8v8h-8zM1162 1053h8v8h-8zM1170 1061h32v8h-32zM1178 1069h16v8h-16zM1186 1077h8v8h-8zM730 1093h8v8h-8zM674 1101h56v8h-56zM1186 1101h8v8h-8zM1194 1109h8v8h-8zM1202 1117h8v8h-8zM978 1125h8v8h-8zM1210 1125h8v8h-8zM978 1133h8v8h-8zM1218 1133h8v8h-8zM978 1141h8v8h-8zM746 1149h8v8h-8zM978 1149h8v8h-8zM722 1157h32v8h-32zM978 1157h8v8h-8zM674 1165h64v8h-64zM746 1165h8v8h-8zM970 1165h16v8h-16zM754 1173h8v8h-8zM962 1173h16v8h-16zM1370 1173h16v8h-16zM954 1181h24v8h-24zM1394 1181h8v8h-8zM946 1189h24v8h-24zM1378 1189h8v8h-8zM946 1197h16v8h-16zM1378 1197h8v8h-8zM938 1205h8v8h-8zM922 1213h16v8h-16zM1002 1213h16v8h-16zM1042 1213h16v8h-16zM914 1221h24v8h-24zM1002 1221h24v8h-24zM1034 1221h24v8h-24zM906 1229h24v8h-24zM1010 1229h40v8h-40zM906 1237h16v8h-16zM1018 1237h24v8h-24zM1578 1245h72v8h-72zM898 1253h8v8h-8zM1458 1253h8v8h-8zM1562 1253h16v8h-16zM906 1261h8v8h-8zM1474 1261h8v8h-8zM1538 1261h8v8h-8zM906 1269h16v8h-16zM978 1269h64v8h-64zM906 1277h24v8h-24zM970 1277h80v8h-80zM914 1285h24v8h-24zM962 1285h24v8h-24zM1034 1285h24v8h-24zM922 1293h16v8h-16zM962 1293h16v8h-16zM1042 1293h16v8h-16zM938 1301h24v8h-24zM1058 1301h88v8h-88zM1386 1325h16v8h-16zM1402 1333h16v8h-16zM1402 1341h16v8h-16zM1402 1349h16v8h-16z"/><path fill="#d6e629" d="M890 789h8v8h-8zM906 797h8v8h-8zM1466 837h8v8h-8zM1458 845h8v8h-8zM1554 845h16v8h-16zM1450 861h8v8h-8zM1274 869h8v8h-8zM1058 877h8v8h-8zM1290 877h8v8h-8zM1298 885h8v8h-8zM1074 893h8v8h-8zM1298 901h8v8h-8zM1434 901h8v8h-8zM1434 909h8v8h-8zM1274 917h8v8h-8zM1434 917h8v8h-8zM1434 925h8v8h-8zM1434 933h8v8h-8zM1386 941h8v8h-8zM1434 941h8v8h-8zM914 965h8v8h-8zM954 965h8v8h-8zM1218 1021h8v8h-8zM1258 1021h16v8h-16zM1210 1029h8v8h-8zM1314 1029h8v8h-8zM1194 1037h8v8h-8zM1306 1037h8v8h-8zM1298 1053h8v8h-8zM714 1077h8v8h-8zM994 1093h8v8h-8zM930 1101h8v8h-8zM1298 1117h8v8h-8zM1106 1125h16v8h-16zM1002 1149h8v8h-8zM1210 1149h8v8h-8zM1290 1157h8v8h-8zM1330 1157h8v8h-8zM1298 1173h8v8h-8zM722 1189h32v8h-32zM1090 1197h8v8h-8zM1106 1205h8v8h-8zM1114 1237h8v8h-8zM778 1245h8v8h-8zM1114 1245h8v8h-8zM1394 1245h8v8h-8zM1122 1269h8v8h-8zM1130 1277h8v8h-8zM1330 1301h8v8h-8z"/><path fill="#a5ff5a" d="M1450 789h8v8h-8zM1514 813h8v8h-8zM1426 845h8v8h-8zM1434 1021h8v8h-8zM1482 1021h8v8h-8zM1450 1029h8v8h-8zM1474 1029h8v8h-8zM1466 1037h8v8h-8zM1122 1173h8v8h-8zM1338 1253h8v8h-8z"/><path fill="#e6d619" d="M858 797h8v8h-8zM786 821h8v8h-8zM1490 845h8v8h-8zM1258 853h8v8h-8zM1274 853h8v8h-8zM970 861h8v8h-8zM1290 861h8v8h-8zM1314 861h8v8h-8zM1586 861h64v8h-64zM898 869h64v8h-64zM1026 869h8v8h-8zM1458 869h8v8h-8zM1034 877h8v8h-8zM1042 885h8v8h-8zM1298 917h8v8h-8zM1330 917h8v8h-8zM1282 925h8v8h-8zM1282 941h8v8h-8zM1330 957h8v8h-8zM1330 965h8v8h-8zM1450 973h8v8h-8zM1322 981h8v8h-8zM1298 989h8v8h-8zM1298 997h8v8h-8zM1314 997h8v8h-8zM1218 1037h8v8h-8zM1202 1045h16v8h-16zM946 1109h32v8h-32zM1282 1117h8v8h-8zM1282 1125h8v8h-8zM1226 1141h40v8h-40zM754 1181h8v8h-8zM1410 1181h8v8h-8zM1418 1189h16v8h-16zM1370 1197h8v8h-8zM1394 1229h16v8h-16zM786 1237h8v8h-8zM1410 1237h16v8h-16zM1474 1269h16v8h-16zM1530 1269h16v8h-16zM1154 1309h8v8h-8zM802 1317h8v8h-8zM1330 1317h16v8h-16zM802 1325h8v8h-8zM802 1333h8v8h-8zM802 1341h8v8h-8zM802 1349h8v8h-8z"/><path fill="#94ff6b" d="M1202 805h8v8h-8zM1114 877h8v8h-8zM842 981h8v8h-8zM898 1037h8v8h-8zM1554 1133h8v8h-8zM1154 1221h8v8h-8zM1274 1261h8v8h-8zM1218 1269h8v8h-8z"/><path fill="#8cff73" d="M1418 805h8v8h-8zM1122 885h8v8h-8zM1234 893h8v8h-8zM1530 1069h8v8h-8zM1498 1077h8v8h-8zM1522 1077h8v8h-8zM1450 1109h8v8h-8zM1522 1109h8v8h-8zM1442 1117h8v8h-8zM1530 1117h8v8h-8zM1482 1173h8v8h-8zM1530 1173h8v8h-8z"/><path fill="#9cf75a" d="M1194 813h8v8h-8zM1242 821h8v8h-8zM1346 821h8v8h-8zM1546 821h104v8h-104zM1378 829h8v8h-8zM1434 829h8v8h-8zM1122 845h8v8h-8zM1122 853h8v8h-8zM1090 861h8v8h-8zM1130 861h8v8h-8zM1146 869h8v8h-8zM1098 877h8v8h-8zM1250 893h8v8h-8zM1250 901h8v8h-8zM1098 949h8v8h-8zM1082 957h8v8h-8zM1258 965h8v8h-8zM834 973h8v8h-8zM994 973h8v8h-8zM978 981h8v8h-8zM1258 981h8v8h-8zM906 989h8v8h-8zM962 989h8v8h-8zM1250 989h8v8h-8zM1194 1005h8v8h-8zM1498 1013h24v8h-24zM1066 1021h24v8h-24zM1170 1021h8v8h-8zM730 1053h8v8h-8zM746 1061h8v8h-8zM938 1061h16v8h-16zM962 1069h8v8h-8zM1018 1093h8v8h-8zM1026 1117h8v8h-8zM1418 1141h16v8h-16zM1442 1149h8v8h-8zM1450 1157h8v8h-8zM1138 1165h24v8h-24zM1458 1173h8v8h-8zM1138 1205h8v8h-8zM1138 1213h8v8h-8zM1138 1221h8v8h-8zM1138 1229h8v8h-8zM1138 1237h8v8h-8zM1138 1245h8v8h-8zM1138 1253h8v8h-8zM1146 1261h32v8h-32z"/><path fill="#efc510" d="M762 821h8v8h-8zM770 829h8v8h-8zM810 829h8v8h-8zM786 837h8v8h-8zM842 845h8v8h-8zM1226 853h16v8h-16zM1538 861h8v8h-8zM858 869h8v8h-8zM978 869h16v8h-16zM1586 869h64v8h-64zM874 877h16v8h-16zM946 877h24v8h-24zM1002 877h16v8h-16zM1026 885h8v8h-8zM1458 885h8v8h-8zM1042 909h8v8h-8zM1042 933h8v8h-8zM1298 941h8v8h-8zM1298 949h8v8h-8zM1298 957h8v8h-8zM1314 965h8v8h-8zM1458 965h8v8h-8zM1314 973h8v8h-8zM1458 973h8v8h-8zM1226 1045h32v8h-32zM1130 1053h8v8h-8zM1066 1077h8v8h-8zM770 1093h8v8h-8zM826 1093h8v8h-8zM1138 1101h16v8h-16zM1274 1101h8v8h-8zM834 1109h8v8h-8zM1066 1109h8v8h-8zM1274 1109h8v8h-8zM834 1117h8v8h-8zM954 1125h16v8h-16zM762 1165h8v8h-8zM770 1181h8v8h-8zM1410 1221h8v8h-8zM794 1229h8v8h-8zM1426 1229h8v8h-8zM802 1237h8v8h-8zM1450 1237h8v8h-8zM890 1253h8v8h-8zM1506 1261h8v8h-8zM810 1309h8v8h-8zM810 1317h8v8h-8zM810 1325h8v8h-8zM1162 1325h16v8h-16zM1338 1325h16v8h-16zM810 1333h8v8h-8zM810 1341h8v8h-8zM810 1349h8v8h-8z"/><path fill="#efce08" d="M826 821h24v8h-24zM842 829h8v8h-8zM1146 1061h8v8h-8zM1154 1069h8v8h-8zM1162 1077h8v8h-8zM1202 1077h8v8h-8zM1170 1085h8v8h-8zM1194 1085h16v8h-16zM1178 1093h8v8h-8zM1194 1093h8v8h-8zM746 1101h16v8h-16zM746 1109h16v8h-16zM674 1117h88v8h-88zM730 1125h32v8h-32zM1226 1125h24v8h-24zM738 1133h24v8h-24zM722 1141h16v8h-16zM754 1141h8v8h-8zM674 1149h40v8h-40zM954 1165h8v8h-8zM946 1173h8v8h-8zM938 1181h8v8h-8zM930 1189h8v8h-8zM922 1197h8v8h-8zM914 1205h8v8h-8zM1394 1205h8v8h-8zM866 1213h48v8h-48zM874 1221h16v8h-16zM1586 1229h64v8h-64zM1570 1237h8v8h-8zM1554 1245h8v8h-8zM1474 1253h8v8h-8zM1538 1253h8v8h-8zM898 1285h8v8h-8zM906 1293h8v8h-8zM994 1293h32v8h-32zM906 1301h16v8h-16zM978 1301h64v8h-64zM914 1309h16v8h-16zM970 1309h16v8h-16zM1034 1309h16v8h-16zM946 1317h8v8h-8zM1066 1317h80v8h-80zM1378 1333h8v8h-8zM1378 1341h16v8h-16zM1378 1349h16v8h-16z"/><path fill="#b5ef42" d="M1170 821h24v8h-24zM1498 821h16v8h-16zM1530 829h16v8h-16zM1442 845h8v8h-8zM1434 861h8v8h-8zM1258 909h8v8h-8zM1074 949h8v8h-8zM1258 949h8v8h-8zM762 965h72v8h-72zM986 965h8v8h-8zM1274 973h8v8h-8zM1226 1005h16v8h-16zM1458 1005h8v8h-8zM1474 1005h24v8h-24zM1178 1029h8v8h-8zM738 1069h16v8h-16zM954 1077h16v8h-16zM858 1093h8v8h-8zM866 1101h16v8h-16zM1010 1101h8v8h-8zM1010 1109h8v8h-8zM1386 1141h8v8h-8zM1410 1149h8v8h-8zM1122 1205h8v8h-8zM1162 1277h8v8h-8zM1194 1301h8v8h-8zM1282 1301h8v8h-8z"/><path fill="#adef4a" d="M1194 821h16v8h-16zM1514 821h8v8h-8zM1250 829h8v8h-8zM1554 829h24v8h-24zM1250 925h8v8h-8zM1082 949h8v8h-8zM834 965h16v8h-16zM994 965h8v8h-8zM1218 1005h8v8h-8zM1066 1029h24v8h-24zM1162 1029h8v8h-8zM1058 1037h8v8h-8zM850 1077h8v8h-8zM858 1085h8v8h-8zM1002 1085h8v8h-8zM1010 1093h8v8h-8zM1458 1181h8v8h-8zM1130 1229h8v8h-8zM1130 1237h8v8h-8zM1130 1245h8v8h-8zM1138 1261h8v8h-8zM1154 1269h8v8h-8zM1202 1301h16v8h-16zM1258 1301h16v8h-16z"/><path fill="#adef52" d="M1210 821h8v8h-8zM1258 829h8v8h-8zM1290 829h48v8h-48zM1250 917h8v8h-8zM1250 941h8v8h-8zM1258 957h8v8h-8zM850 965h8v8h-8z"/><path fill="#a5ef52" d="M1218 821h8v8h-8zM1266 829h24v8h-24zM1058 957h16v8h-16zM858 965h16v8h-16zM1002 965h8v8h-8zM1154 1029h8v8h-8zM1050 1045h8v8h-8zM850 1069h8v8h-8zM1034 1101h8v8h-8zM1034 1109h8v8h-8zM1466 1181h8v8h-8zM1218 1301h8v8h-8zM1234 1301h24v8h-24z"/><path fill="#a5ef5a" d="M1226 821h8v8h-8zM1074 957h8v8h-8zM1010 965h8v8h-8zM1058 1029h8v8h-8zM994 1077h8v8h-8zM1034 1093h8v8h-8zM1546 1181h104v8h-104zM1226 1301h8v8h-8z"/><path fill="#9cef5a" d="M1234 821h8v8h-8zM1154 869h8v8h-8zM1234 885h8v8h-8zM1242 925h8v8h-8zM1242 933h8v8h-8zM1250 949h8v8h-8zM1018 965h8v8h-8zM1234 997h8v8h-8zM1050 1037h8v8h-8zM842 1069h8v8h-8zM1010 1085h8v8h-8zM1474 1181h24v8h-24zM1522 1181h24v8h-24z"/><path fill="#94f763" d="M1250 821h88v8h-88zM1122 861h8v8h-8zM1122 869h24v8h-24zM1242 901h8v8h-8zM1242 909h8v8h-8zM1242 917h8v8h-8zM1090 957h16v8h-16zM1050 965h24v8h-24zM1258 973h8v8h-8zM882 981h8v8h-8zM890 989h8v8h-8zM930 997h32v8h-32zM1058 1021h8v8h-8zM1090 1021h8v8h-8zM1162 1021h8v8h-8zM1050 1029h8v8h-8zM866 1037h24v8h-24zM858 1045h8v8h-8zM754 1061h8v8h-8zM954 1061h8v8h-8z"/><path fill="#9cf763" d="M1338 821h8v8h-8zM874 973h8v8h-8zM898 989h8v8h-8zM970 989h8v8h-8zM850 1061h8v8h-8zM1138 1197h8v8h-8z"/><path fill="#c5ef3a" d="M1466 821h8v8h-8zM1162 829h8v8h-8zM1458 829h8v8h-8zM1354 845h8v8h-8zM1058 861h8v8h-8zM1074 877h8v8h-8zM1266 909h8v8h-8zM1378 957h8v8h-8zM1450 997h8v8h-8zM1202 1021h8v8h-8zM706 1061h8v8h-8zM722 1069h8v8h-8zM938 1085h8v8h-8zM1042 1141h8v8h-8zM1170 1149h8v8h-8zM1362 1149h16v8h-16zM1026 1157h8v8h-8zM1194 1157h8v8h-8zM1410 1157h8v8h-8zM1218 1165h8v8h-8zM1234 1165h8v8h-8zM754 1213h8v8h-8zM762 1245h8v8h-8zM1162 1285h8v8h-8z"/><path fill="#bdef3a" d="M1474 821h16v8h-16zM1154 829h8v8h-8zM1450 837h8v8h-8zM1562 837h88v8h-88zM1442 853h8v8h-8zM1434 869h8v8h-8zM1258 877h8v8h-8zM1082 885h8v8h-8zM1274 885h8v8h-8zM1090 901h8v8h-8zM1274 901h8v8h-8zM1090 909h8v8h-8zM1090 917h8v8h-8zM1258 917h8v8h-8zM1090 925h8v8h-8zM1090 933h8v8h-8zM1082 941h8v8h-8zM1266 957h8v8h-8zM1394 957h8v8h-8zM738 965h8v8h-8zM1274 965h8v8h-8zM1370 965h8v8h-8zM962 973h8v8h-8zM938 981h16v8h-16zM1274 989h8v8h-8zM1442 997h8v8h-8zM1210 1013h8v8h-8zM1186 1029h8v8h-8zM730 1069h8v8h-8zM1010 1125h8v8h-8zM1042 1125h8v8h-8zM1010 1133h8v8h-8zM1042 1133h8v8h-8zM1330 1141h8v8h-8zM1018 1149h8v8h-8zM1034 1149h8v8h-8zM1162 1149h8v8h-8zM1346 1149h16v8h-16zM1394 1149h8v8h-8zM1186 1157h8v8h-8zM1418 1157h8v8h-8zM1242 1165h24v8h-24zM1274 1165h8v8h-8zM1282 1173h8v8h-8zM1106 1189h8v8h-8zM1114 1197h8v8h-8zM746 1205h8v8h-8zM1122 1213h8v8h-8zM754 1221h8v8h-8zM1122 1221h8v8h-8zM754 1229h8v8h-8zM1122 1229h8v8h-8zM1354 1229h8v8h-8zM754 1237h8v8h-8zM1122 1237h8v8h-8zM1362 1237h8v8h-8zM1370 1245h8v8h-8zM1130 1261h8v8h-8zM1138 1269h8v8h-8zM1154 1277h8v8h-8zM1290 1301h16v8h-16z"/><path fill="#bdef42" d="M1490 821h8v8h-8zM1330 837h16v8h-16zM1250 877h8v8h-8zM746 965h16v8h-16zM1274 981h8v8h-8zM1242 1005h8v8h-8zM1466 1005h8v8h-8zM1570 1005h80v8h-80zM1194 1021h8v8h-8zM1010 1117h8v8h-8zM1402 1149h8v8h-8zM1266 1165h8v8h-8zM1170 1285h8v8h-8zM1186 1301h8v8h-8z"/><path fill="#efbd08" d="M762 829h8v8h-8zM778 837h8v8h-8zM1202 853h16v8h-16zM1522 861h8v8h-8zM1538 869h16v8h-16zM858 877h8v8h-8zM978 877h8v8h-8zM994 877h8v8h-8zM930 885h24v8h-24zM922 941h32v8h-32zM1458 949h8v8h-8zM794 1093h32v8h-32zM1122 1101h8v8h-8zM1074 1109h8v8h-8zM834 1125h8v8h-8zM938 1125h16v8h-16zM778 1189h8v8h-8zM1418 1205h16v8h-16zM786 1221h8v8h-8zM1418 1221h8v8h-8zM802 1229h8v8h-8zM882 1253h8v8h-8zM818 1325h8v8h-8zM818 1333h8v8h-8zM818 1341h8v8h-8zM818 1349h8v8h-8z"/><path fill="#e6ce10" d="M786 829h8v8h-8zM1562 861h16v8h-16zM882 869h8v8h-8zM962 869h8v8h-8zM1010 869h8v8h-8zM914 877h16v8h-16zM1026 877h8v8h-8zM922 949h8v8h-8zM1450 957h8v8h-8zM1298 965h8v8h-8zM1322 965h8v8h-8zM1450 965h8v8h-8zM1234 1037h16v8h-16zM1130 1109h24v8h-24zM954 1117h16v8h-16zM1082 1117h8v8h-8zM762 1181h8v8h-8zM1394 1221h8v8h-8zM1410 1229h8v8h-8zM794 1237h8v8h-8zM1426 1237h8v8h-8zM1178 1325h8v8h-8zM1298 1325h16v8h-16z"/><path fill="#c5e63a" d="M1170 829h8v8h-8zM1506 829h8v8h-8zM1250 837h8v8h-8zM1546 837h16v8h-16zM1258 941h8v8h-8zM722 965h8v8h-8zM1074 1037h16v8h-16zM1162 1037h8v8h-8zM858 1101h8v8h-8zM898 1101h8v8h-8zM1122 1245h8v8h-8zM1146 1277h8v8h-8zM1274 1309h8v8h-8z"/><path fill="#c5e631" d="M1178 829h8v8h-8zM1482 829h24v8h-24zM1538 837h8v8h-8zM1258 925h8v8h-8zM1074 941h8v8h-8zM674 965h48v8h-48zM898 965h8v8h-8zM970 965h8v8h-8zM1282 973h8v8h-8zM1282 981h8v8h-8zM1458 997h16v8h-16zM1170 1037h16v8h-16zM970 1085h8v8h-8zM1298 1085h8v8h-8zM850 1093h8v8h-8zM1298 1093h8v8h-8zM906 1101h8v8h-8zM1002 1101h8v8h-8zM1002 1109h8v8h-8zM1002 1117h8v8h-8zM1378 1149h16v8h-16zM1258 1157h16v8h-16zM1402 1157h8v8h-8zM1442 1181h8v8h-8zM754 1205h8v8h-8zM762 1229h8v8h-8zM1122 1253h8v8h-8zM1130 1269h8v8h-8zM1178 1301h8v8h-8zM1186 1309h16v8h-16zM1282 1309h8v8h-8z"/><path fill="#c5de31" d="M1186 829h8v8h-8zM1234 837h16v8h-16zM1234 869h16v8h-16zM754 957h80v8h-80zM986 957h8v8h-8zM1474 997h24v8h-24zM746 1077h8v8h-8zM986 1085h8v8h-8zM866 1109h16v8h-16zM1450 1189h8v8h-8z"/><path fill="#c5de3a" d="M1194 829h8v8h-8zM834 957h8v8h-8zM994 957h8v8h-8zM1090 1037h16v8h-16zM1114 1037h8v8h-8zM754 1077h8v8h-8zM842 1085h8v8h-8z"/><path fill="#bdde3a" d="M1202 829h16v8h-16zM1306 837h8v8h-8zM1162 861h8v8h-8zM1050 949h8v8h-8zM842 957h16v8h-16zM1002 957h8v8h-8zM1122 1037h24v8h-24zM762 1077h8v8h-8zM1458 1189h8v8h-8z"/><path fill="#b5e642" d="M1218 829h16v8h-16zM1154 861h8v8h-8zM1242 877h8v8h-8zM1250 933h8v8h-8zM882 965h8v8h-8zM1522 1005h24v8h-24zM1450 1181h8v8h-8zM1570 1189h80v8h-80zM1226 1309h16v8h-16z"/><path fill="#b5e64a" d="M1234 829h8v8h-8zM1234 877h8v8h-8zM1514 1005h8v8h-8zM1050 1061h8v8h-8z"/><path fill="#ade64a" d="M1242 829h8v8h-8zM1226 877h8v8h-8zM1042 957h8v8h-8zM874 965h8v8h-8zM1506 1005h8v8h-8zM1090 1029h24v8h-24zM1050 1053h8v8h-8zM754 1069h8v8h-8zM842 1077h8v8h-8zM978 1077h16v8h-16z"/><path fill="#adf752" d="M1338 829h8v8h-8zM1074 853h8v8h-8zM1250 885h8v8h-8zM722 981h8v8h-8zM946 989h8v8h-8zM1450 1013h8v8h-8zM1538 1013h8v8h-8zM1410 1029h8v8h-8zM1402 1037h8v8h-8zM1018 1117h8v8h-8zM1146 1157h8v8h-8zM1450 1173h8v8h-8zM1130 1205h8v8h-8zM1298 1221h8v8h-8zM1282 1293h8v8h-8z"/><path fill="#bde63a" d="M1514 829h16v8h-16zM1258 837h48v8h-48zM1314 837h16v8h-16zM1058 949h16v8h-16zM730 965h8v8h-8zM890 965h8v8h-8zM978 965h8v8h-8zM1554 1005h16v8h-16zM1066 1037h8v8h-8zM1154 1037h8v8h-8zM1058 1045h8v8h-8zM1002 1093h8v8h-8zM882 1101h16v8h-16zM1042 1117h8v8h-8zM1202 1309h16v8h-16zM1258 1309h16v8h-16z"/><path fill="#b5ef4a" d="M1546 829h8v8h-8zM1090 941h8v8h-8zM1498 1005h8v8h-8zM1170 1029h8v8h-8zM970 1077h8v8h-8zM1130 1253h8v8h-8zM1146 1269h8v8h-8zM1274 1301h8v8h-8z"/><path fill="#f7c508" d="M818 837h16v8h-16zM834 845h8v8h-8zM1506 853h8v8h-8zM1306 933h8v8h-8zM1306 949h8v8h-8zM1306 957h8v8h-8zM1306 965h8v8h-8zM1130 1061h8v8h-8zM1218 1061h8v8h-8zM1138 1069h8v8h-8zM1218 1069h8v8h-8zM1146 1077h8v8h-8zM1218 1077h8v8h-8zM1146 1085h16v8h-16zM1218 1085h8v8h-8zM1154 1093h8v8h-8zM1210 1093h16v8h-16zM770 1101h16v8h-16zM1218 1101h16v8h-16zM770 1109h16v8h-16zM1226 1109h24v8h-24zM770 1117h16v8h-16zM1242 1117h24v8h-24zM674 1125h40v8h-40zM770 1125h16v8h-16zM706 1133h24v8h-24zM770 1133h16v8h-16zM674 1141h40v8h-40zM770 1141h8v8h-8zM770 1149h8v8h-8zM954 1149h8v8h-8zM770 1157h8v8h-8zM946 1157h8v8h-8zM770 1165h8v8h-8zM938 1165h8v8h-8zM930 1173h8v8h-8zM866 1197h48v8h-48zM858 1205h8v8h-8zM858 1221h8v8h-8zM1578 1221h72v8h-72zM866 1229h8v8h-8zM1562 1229h8v8h-8zM1466 1237h8v8h-8zM1546 1237h8v8h-8zM1482 1245h8v8h-8zM1530 1245h8v8h-8zM1498 1253h8v8h-8zM1514 1253h8v8h-8zM890 1285h8v8h-8zM890 1293h8v8h-8zM890 1301h8v8h-8zM898 1309h8v8h-8zM898 1317h16v8h-16zM986 1317h48v8h-48zM898 1325h248v8h-248zM1354 1333h8v8h-8zM1354 1341h16v8h-16zM1354 1349h16v8h-16z"/><path fill="#cee631" d="M1162 837h8v8h-8zM1442 869h8v8h-8zM1434 885h8v8h-8zM1082 925h8v8h-8zM1082 933h8v8h-8zM1258 933h8v8h-8zM1266 949h8v8h-8zM1274 957h8v8h-8zM962 965h8v8h-8zM1282 989h8v8h-8zM1442 989h8v8h-8zM738 1077h8v8h-8zM1298 1077h8v8h-8zM978 1085h8v8h-8zM914 1101h8v8h-8zM1298 1101h8v8h-8zM1002 1125h8v8h-8zM1242 1157h16v8h-16zM1274 1157h8v8h-8zM1122 1261h8v8h-8zM1138 1277h8v8h-8zM1290 1309h8v8h-8z"/><path fill="#cede29" d="M1170 837h8v8h-8zM1514 837h16v8h-16zM1322 845h8v8h-8zM1442 877h8v8h-8zM1058 1061h8v8h-8zM850 1101h8v8h-8zM1050 1117h8v8h-8zM762 1213h8v8h-8zM1178 1309h8v8h-8zM1306 1309h8v8h-8z"/><path fill="#d6d629" d="M1178 837h8v8h-8zM1202 837h8v8h-8zM1506 837h8v8h-8zM674 957h48v8h-48zM898 957h8v8h-8zM970 957h8v8h-8zM1290 973h8v8h-8zM1146 1045h8v8h-8zM1058 1069h8v8h-8zM842 1093h8v8h-8zM906 1109h8v8h-8zM762 1205h8v8h-8zM1194 1317h16v8h-16zM1274 1317h8v8h-8z"/><path fill="#d6ce21" d="M1186 837h8v8h-8zM754 949h80v8h-80zM1482 989h16v8h-16zM1586 989h64v8h-64zM1122 1045h8v8h-8zM1058 1077h8v8h-8zM770 1085h8v8h-8zM850 1109h8v8h-8zM866 1117h16v8h-16zM1450 1197h8v8h-8z"/><path fill="#d6ce29" d="M1194 837h8v8h-8zM834 949h16v8h-16zM994 949h8v8h-8zM778 1085h56v8h-56zM1458 1197h8v8h-8z"/><path fill="#ced629" d="M1210 837h16v8h-16zM722 957h16v8h-16zM890 957h8v8h-8zM858 1109h8v8h-8zM890 1109h16v8h-16zM1050 1109h8v8h-8zM1442 1189h8v8h-8zM1210 1317h16v8h-16zM1242 1317h32v8h-32z"/><path fill="#ced631" d="M1226 837h8v8h-8zM978 957h8v8h-8zM1546 997h24v8h-24zM834 1085h8v8h-8zM1050 1101h8v8h-8zM1562 1197h88v8h-88zM1226 1317h16v8h-16z"/><path fill="#d6de21" d="M1482 837h8v8h-8zM1290 845h8v8h-8zM1538 845h16v8h-16zM1162 853h8v8h-8zM1450 869h8v8h-8zM1050 877h8v8h-8zM1442 885h8v8h-8zM1282 917h8v8h-8zM1266 941h8v8h-8zM1290 981h8v8h-8zM1442 981h8v8h-8zM1290 989h8v8h-8zM1330 989h8v8h-8zM1290 997h8v8h-8zM1202 1037h8v8h-8zM1074 1045h8v8h-8zM1162 1045h24v8h-24zM1290 1077h8v8h-8zM994 1101h8v8h-8zM1290 1101h8v8h-8zM994 1109h8v8h-8zM1290 1109h8v8h-8zM994 1117h8v8h-8zM994 1125h8v8h-8zM1098 1125h8v8h-8zM1218 1149h48v8h-48zM1274 1149h8v8h-8zM1402 1165h8v8h-8zM778 1237h8v8h-8zM1114 1253h8v8h-8zM1114 1261h8v8h-8zM1122 1277h8v8h-8zM1138 1285h8v8h-8zM1162 1301h8v8h-8zM1170 1309h8v8h-8zM1322 1309h8v8h-8z"/><path fill="#d6de29" d="M1490 837h16v8h-16zM1162 845h8v8h-8zM1258 845h32v8h-32zM1314 845h8v8h-8zM1058 941h16v8h-16zM1274 949h8v8h-8zM1282 957h8v8h-8zM1458 989h8v8h-8zM1066 1045h8v8h-8zM1290 1085h8v8h-8zM1290 1093h8v8h-8zM1266 1149h8v8h-8zM1378 1157h16v8h-16zM754 1197h8v8h-8zM770 1229h8v8h-8zM1314 1309h8v8h-8z"/><path fill="#cede31" d="M1530 837h8v8h-8zM1250 869h8v8h-8zM738 957h16v8h-16zM1282 965h8v8h-8zM1570 997h80v8h-80zM1058 1053h8v8h-8zM882 1109h8v8h-8zM762 1221h8v8h-8z"/><path fill="#cee629" d="M1154 845h8v8h-8zM1330 845h8v8h-8zM1570 845h80v8h-80zM1154 853h8v8h-8zM1450 853h8v8h-8zM1042 861h8v8h-8zM1050 869h8v8h-8zM1258 869h16v8h-16zM1282 877h8v8h-8zM1434 893h8v8h-8zM1282 909h8v8h-8zM1266 917h8v8h-8zM1370 949h8v8h-8zM906 965h8v8h-8zM1434 981h8v8h-8zM1338 989h8v8h-8zM1450 989h8v8h-8zM1282 997h8v8h-8zM1282 1005h8v8h-8zM1330 1005h8v8h-8zM1322 1021h8v8h-8zM1202 1029h8v8h-8zM1186 1037h8v8h-8zM1298 1061h8v8h-8zM1298 1069h8v8h-8zM722 1077h16v8h-16zM922 1101h8v8h-8zM1298 1109h8v8h-8zM1050 1125h8v8h-8zM1002 1133h8v8h-8zM1050 1133h8v8h-8zM1002 1141h8v8h-8zM1050 1141h8v8h-8zM1050 1149h8v8h-8zM1202 1149h8v8h-8zM1010 1157h8v8h-8zM1218 1157h24v8h-24zM1282 1157h8v8h-8zM1338 1157h40v8h-40zM1394 1157h8v8h-8zM1410 1165h8v8h-8zM1434 1181h8v8h-8zM1114 1221h8v8h-8zM1362 1221h8v8h-8zM1114 1229h8v8h-8zM1370 1229h8v8h-8zM770 1237h8v8h-8zM1378 1237h8v8h-8zM1154 1285h8v8h-8zM1162 1293h8v8h-8zM1170 1301h8v8h-8zM1322 1301h8v8h-8zM1298 1309h8v8h-8z"/><path fill="#ded621" d="M1170 845h8v8h-8zM1242 845h8v8h-8zM1530 845h8v8h-8zM1242 861h16v8h-16zM1450 877h8v8h-8zM1442 893h8v8h-8zM1442 901h8v8h-8zM1442 909h8v8h-8zM1442 917h8v8h-8zM1442 925h8v8h-8zM1442 933h8v8h-8zM1442 941h8v8h-8zM1282 949h8v8h-8zM906 957h16v8h-16zM954 957h8v8h-8zM1290 965h8v8h-8zM1258 1029h16v8h-16zM1090 1045h8v8h-8zM1290 1053h8v8h-8zM738 1085h24v8h-24zM842 1101h8v8h-8zM922 1109h16v8h-16zM1058 1117h8v8h-8zM1106 1117h16v8h-16zM1434 1189h8v8h-8zM762 1197h8v8h-8zM1178 1317h8v8h-8zM1298 1317h16v8h-16z"/><path fill="#dece19" d="M1178 845h8v8h-8zM1226 845h8v8h-8zM1514 845h8v8h-8zM1170 853h8v8h-8zM1450 885h8v8h-8zM898 949h8v8h-8zM1274 1037h8v8h-8zM1282 1045h8v8h-8zM1282 1077h8v8h-8zM1282 1085h8v8h-8zM834 1093h8v8h-8zM1282 1093h8v8h-8zM1282 1101h8v8h-8zM1058 1109h8v8h-8zM1098 1117h8v8h-8zM1442 1197h8v8h-8zM770 1205h8v8h-8zM1578 1205h72v8h-72zM1218 1325h40v8h-40z"/><path fill="#e6bd19" d="M1186 845h8v8h-8zM834 941h16v8h-16zM994 941h24v8h-24zM1482 981h16v8h-16zM1058 1093h8v8h-8zM1458 1205h24v8h-24zM1538 1205h16v8h-16z"/><path fill="#e6c519" d="M1194 845h24v8h-24zM1450 901h8v8h-8zM1450 909h8v8h-8zM1450 917h8v8h-8zM1450 925h8v8h-8zM1450 933h8v8h-8zM954 949h16v8h-16zM1474 981h8v8h-8zM850 1117h8v8h-8zM914 1117h24v8h-24zM770 1197h8v8h-8zM1554 1205h8v8h-8zM778 1221h8v8h-8z"/><path fill="#dec519" d="M1218 845h8v8h-8zM674 949h48v8h-48zM970 949h8v8h-8zM1058 1101h8v8h-8zM898 1117h16v8h-16zM1562 1205h16v8h-16z"/><path fill="#dece21" d="M1234 845h8v8h-8zM1226 861h16v8h-16zM1042 941h8v8h-8zM738 949h16v8h-16zM1570 989h16v8h-16zM1098 1045h24v8h-24zM858 1117h8v8h-8zM882 1117h8v8h-8zM770 1213h8v8h-8z"/><path fill="#d6d621" d="M1250 845h8v8h-8zM1298 845h16v8h-16zM1050 941h8v8h-8zM962 957h8v8h-8zM1466 989h16v8h-16zM1082 1045h8v8h-8zM1130 1045h16v8h-16zM1154 1045h8v8h-8zM1290 1061h8v8h-8zM1290 1069h8v8h-8zM762 1085h8v8h-8zM914 1109h8v8h-8zM770 1221h8v8h-8zM1186 1317h8v8h-8zM1282 1317h16v8h-16z"/><path fill="#ded619" d="M1482 845h8v8h-8zM1522 845h8v8h-8zM1442 949h8v8h-8zM922 957h32v8h-32zM1290 957h8v8h-8zM1442 957h8v8h-8zM1442 965h8v8h-8zM1458 981h8v8h-8zM1250 1029h8v8h-8zM1282 1037h8v8h-8zM938 1109h8v8h-8zM1282 1109h8v8h-8zM1122 1117h24v8h-24zM1082 1125h8v8h-8zM1266 1141h8v8h-8zM1378 1165h16v8h-16zM778 1229h8v8h-8zM794 1245h8v8h-8zM1162 1309h8v8h-8zM1170 1317h8v8h-8zM1314 1317h16v8h-16z"/><path fill="#e6ce19" d="M1498 845h16v8h-16zM1458 877h8v8h-8zM1450 893h8v8h-8zM906 949h16v8h-16zM1290 949h8v8h-8zM1298 973h8v8h-8zM1298 981h8v8h-8zM1466 981h8v8h-8zM1250 1037h24v8h-24zM1282 1053h8v8h-8zM1282 1061h8v8h-8zM1282 1069h8v8h-8zM842 1109h8v8h-8zM1090 1117h8v8h-8zM762 1189h8v8h-8zM1434 1197h8v8h-8zM802 1253h8v8h-8zM802 1261h8v8h-8zM802 1269h8v8h-8zM802 1277h8v8h-8zM802 1285h8v8h-8zM802 1293h8v8h-8zM802 1301h8v8h-8zM802 1309h8v8h-8zM1162 1317h8v8h-8zM1186 1325h32v8h-32zM1258 1325h40v8h-40z"/><path fill="#e6bd10" d="M1178 853h8v8h-8zM746 941h40v8h-40zM794 941h40v8h-40zM1570 981h80v8h-80zM1098 1109h16v8h-16zM866 1125h16v8h-16zM1450 1205h8v8h-8z"/><path fill="#efb508" d="M1186 853h16v8h-16zM1458 917h8v8h-8zM1458 925h8v8h-8zM1458 941h8v8h-8zM1098 1101h8v8h-8zM1114 1101h8v8h-8zM930 1125h8v8h-8zM810 1237h8v8h-8zM818 1317h8v8h-8z"/><path fill="#efbd10" d="M1218 853h8v8h-8zM1554 869h32v8h-32zM970 877h8v8h-8zM1458 893h8v8h-8zM1458 901h8v8h-8zM730 941h16v8h-16zM898 941h24v8h-24zM954 941h32v8h-32zM1458 957h8v8h-8zM1258 1045h16v8h-16zM1274 1053h8v8h-8zM1274 1061h8v8h-8zM1274 1069h8v8h-8zM1274 1077h8v8h-8zM1274 1085h8v8h-8zM1274 1093h8v8h-8zM1130 1101h8v8h-8zM1082 1109h16v8h-16zM842 1125h24v8h-24zM882 1125h8v8h-8zM778 1197h8v8h-8zM778 1205h8v8h-8zM1434 1205h16v8h-16zM778 1213h8v8h-8zM810 1245h8v8h-8zM810 1253h8v8h-8zM810 1261h8v8h-8zM810 1269h8v8h-8zM810 1277h8v8h-8zM810 1285h8v8h-8zM810 1293h8v8h-8zM810 1301h8v8h-8z"/><path fill="#dede21" d="M1330 853h8v8h-8zM1458 853h8v8h-8zM930 861h24v8h-24zM1258 861h16v8h-16zM1290 869h8v8h-8zM1298 909h8v8h-8zM1266 925h8v8h-8zM946 965h8v8h-8zM1330 981h8v8h-8zM1450 981h8v8h-8zM1322 997h8v8h-8zM1218 1029h8v8h-8zM1274 1029h24v8h-24zM1210 1037h8v8h-8zM1290 1037h8v8h-8zM1186 1045h8v8h-8zM1290 1045h8v8h-8zM722 1085h16v8h-16zM946 1101h8v8h-8zM1290 1117h8v8h-8zM1058 1125h8v8h-8zM1090 1125h8v8h-8zM1290 1125h8v8h-8zM994 1133h8v8h-8zM1058 1133h8v8h-8zM994 1141h8v8h-8zM1202 1141h8v8h-8zM1282 1141h8v8h-8zM1346 1165h24v8h-24zM1394 1165h8v8h-8zM1426 1181h8v8h-8zM754 1189h8v8h-8zM1362 1205h8v8h-8zM1394 1237h8v8h-8zM786 1245h8v8h-8zM1410 1245h8v8h-8zM794 1253h8v8h-8zM794 1261h8v8h-8zM794 1269h8v8h-8zM1114 1269h8v8h-8zM794 1277h8v8h-8zM794 1285h8v8h-8zM1130 1285h8v8h-8zM794 1293h8v8h-8zM1154 1293h8v8h-8zM794 1301h8v8h-8zM794 1309h8v8h-8zM1330 1309h8v8h-8zM794 1317h8v8h-8zM794 1325h8v8h-8zM794 1333h8v8h-8zM794 1341h8v8h-8zM794 1349h8v8h-8z"/><path fill="#c5d631" d="M1170 861h8v8h-8zM882 957h8v8h-8zM1522 997h24v8h-24zM1050 1085h8v8h-8z"/><path fill="#cec531" d="M1178 861h8v8h-8z"/><path fill="#d6bd29" d="M1186 861h16v8h-16z"/><path fill="#d6c521" d="M1202 861h16v8h-16zM882 949h8v8h-8zM986 949h8v8h-8zM1514 989h24v8h-24z"/><path fill="#dec521" d="M1218 861h8v8h-8zM1034 941h8v8h-8zM722 949h16v8h-16zM890 949h8v8h-8zM978 949h8v8h-8zM1538 989h32v8h-32zM1058 1085h8v8h-8zM890 1117h8v8h-8z"/><path fill="#a5e65a" d="M1162 869h8v8h-8zM1146 1029h8v8h-8zM770 1069h8v8h-8z"/><path fill="#a5de52" d="M1170 869h8v8h-8z"/><path fill="#add652" d="M1178 869h8v8h-8z"/><path fill="#adce4a" d="M1186 869h8v8h-8z"/><path fill="#b5ce4a" d="M1194 869h8v8h-8z"/><path fill="#b5ce42" d="M1202 869h8v8h-8z"/><path fill="#bdd642" d="M1210 869h8v8h-8zM858 957h16v8h-16z"/><path fill="#bdd63a" d="M1218 869h8v8h-8zM874 957h8v8h-8zM1050 1077h8v8h-8z"/><path fill="#c5d63a" d="M1226 869h8v8h-8zM1034 949h16v8h-16zM1498 997h24v8h-24zM1106 1037h8v8h-8z"/><path fill="#8cf76b" d="M1130 877h8v8h-8zM1074 965h16v8h-16zM1250 981h8v8h-8zM906 997h24v8h-24zM962 997h16v8h-16zM1202 997h8v8h-8zM1130 1021h8v8h-8zM1154 1021h8v8h-8zM858 1037h8v8h-8zM850 1053h8v8h-8zM962 1061h8v8h-8zM1010 1077h8v8h-8zM1018 1085h8v8h-8z"/><path fill="#84f773" d="M1138 877h16v8h-16zM1234 909h8v8h-8zM1234 917h8v8h-8zM1234 925h8v8h-8zM1234 933h8v8h-8zM1242 949h8v8h-8zM1250 965h8v8h-8zM1234 989h8v8h-8zM890 997h16v8h-16zM1194 997h8v8h-8zM1146 1021h8v8h-8zM1042 1029h8v8h-8zM1042 1037h8v8h-8zM850 1045h8v8h-8zM970 1061h8v8h-8zM1018 1077h8v8h-8zM1026 1085h8v8h-8z"/><path fill="#84ef73" d="M1154 877h16v8h-16zM770 1061h8v8h-8zM1034 1069h8v8h-8z"/><path fill="#84e673" d="M1170 877h8v8h-8z"/><path fill="#84de73" d="M1178 877h8v8h-8z"/><path fill="#8cd673" d="M1186 877h8v8h-8z"/><path fill="#8cde6b" d="M1194 877h8v8h-8z"/><path fill="#94de63" d="M1202 877h8v8h-8z"/><path fill="#9cde5a" d="M1210 877h8v8h-8z"/><path fill="#a5e652" d="M1218 877h8v8h-8zM1122 1029h24v8h-24zM762 1069h8v8h-8zM1042 1077h8v8h-8z"/><path fill="#efad08" d="M1570 877h80v8h-80zM1458 933h8v8h-8zM1106 1101h8v8h-8z"/><path fill="#7bf77b" d="M1130 885h8v8h-8zM1234 941h8v8h-8zM1242 957h8v8h-8zM1250 973h8v8h-8zM1242 981h8v8h-8zM1218 989h8v8h-8zM914 1005h32v8h-32zM954 1005h8v8h-8zM1042 1021h8v8h-8zM850 1037h8v8h-8zM842 1053h8v8h-8zM978 1061h8v8h-8zM1034 1061h8v8h-8zM1010 1069h8v8h-8zM1026 1077h8v8h-8z"/><path fill="#73f784" d="M1138 885h8v8h-8zM1218 893h8v8h-8zM1234 949h8v8h-8zM1242 965h8v8h-8zM1194 989h16v8h-16zM1034 1029h8v8h-8zM842 1037h8v8h-8zM1034 1037h8v8h-8zM842 1045h8v8h-8zM1034 1045h8v8h-8zM1034 1053h8v8h-8zM986 1061h8v8h-8zM1018 1069h8v8h-8z"/><path fill="#6bf78c" d="M1146 885h16v8h-16zM1242 973h8v8h-8zM1234 981h8v8h-8zM770 1053h8v8h-8zM994 1061h16v8h-16zM1026 1069h8v8h-8z"/><path fill="#6bef94" d="M1162 885h8v8h-8z"/><path fill="#63ef94" d="M1170 885h8v8h-8z"/><path fill="#63e694" d="M1178 885h16v8h-16z"/><path fill="#6be68c" d="M1194 885h8v8h-8z"/><path fill="#73ef84" d="M1202 885h8v8h-8zM786 1061h24v8h-24z"/><path fill="#84ef7b" d="M1210 885h8v8h-8z"/><path fill="#8cef6b" d="M1218 885h8v8h-8zM1122 1021h8v8h-8zM1042 1045h8v8h-8zM1042 1053h8v8h-8zM762 1061h8v8h-8zM842 1061h8v8h-8zM986 1069h8v8h-8zM1034 1077h8v8h-8z"/><path fill="#94ef63" d="M1226 885h8v8h-8zM1242 941h8v8h-8zM1250 957h8v8h-8zM1026 965h24v8h-24zM1218 997h8v8h-8zM1098 1021h16v8h-16zM1042 1061h8v8h-8zM978 1069h8v8h-8zM1002 1077h8v8h-8zM1034 1085h8v8h-8zM1498 1181h24v8h-24z"/><path fill="#f79c00" d="M1530 885h8v8h-8zM1578 957h72v8h-72zM1570 965h8v8h-8z"/><path fill="#f79c08" d="M1538 885h112v8h-112zM1530 973h16v8h-16z"/><path fill="#63f794" d="M1138 893h8v8h-8zM1210 893h8v8h-8zM1138 901h8v8h-8zM1210 901h8v8h-8zM1138 909h8v8h-8zM1138 917h8v8h-8zM1138 925h8v8h-8zM1138 933h8v8h-8zM1226 941h8v8h-8zM1234 957h8v8h-8zM1186 981h24v8h-24zM834 1037h8v8h-8zM834 1045h8v8h-8zM778 1053h8v8h-8zM834 1053h8v8h-8zM978 1053h8v8h-8zM1010 1061h24v8h-24z"/><path fill="#5af79c" d="M1146 893h8v8h-8zM1202 893h8v8h-8zM1210 917h8v8h-8zM1210 925h8v8h-8zM1210 933h8v8h-8zM1146 941h8v8h-8zM1218 941h8v8h-8zM1154 949h8v8h-8zM1226 949h8v8h-8zM1162 957h8v8h-8zM1170 965h8v8h-8zM1234 965h8v8h-8zM1178 973h8v8h-8zM1218 981h16v8h-16zM818 1037h16v8h-16zM794 1045h8v8h-8zM1026 1045h8v8h-8zM786 1053h16v8h-16zM986 1053h24v8h-24zM1026 1053h8v8h-8z"/><path fill="#52f7a5" d="M1154 893h8v8h-8zM1146 901h16v8h-16zM1202 901h8v8h-8zM1146 909h16v8h-16zM1202 909h8v8h-8zM1146 917h16v8h-16zM1202 917h8v8h-8zM1146 925h16v8h-16zM1202 925h8v8h-8zM1146 933h16v8h-16zM1202 933h8v8h-8zM1154 941h16v8h-16zM1202 941h16v8h-16zM1162 949h16v8h-16zM1210 949h16v8h-16zM1170 957h16v8h-16zM1218 957h16v8h-16zM1178 965h16v8h-16zM1186 973h16v8h-16zM802 1045h32v8h-32zM802 1053h32v8h-32zM1018 1053h8v8h-8z"/><path fill="#52f7ad" d="M1162 893h8v8h-8zM1194 893h8v8h-8z"/><path fill="#4af7ad" d="M1170 893h8v8h-8zM1162 901h8v8h-8zM1194 901h8v8h-8zM1162 909h8v8h-8zM1194 909h8v8h-8zM1162 917h8v8h-8zM1194 917h8v8h-8zM1162 925h8v8h-8zM1194 925h8v8h-8zM1162 933h16v8h-16zM1194 933h8v8h-8zM1170 941h8v8h-8zM1194 941h8v8h-8zM1178 949h32v8h-32zM1186 957h32v8h-32zM1194 965h40v8h-40zM1202 973h16v8h-16z"/><path fill="#4af7b5" d="M1178 893h8v8h-8zM1170 901h8v8h-8zM1170 909h8v8h-8zM1170 917h8v8h-8zM1170 925h8v8h-8zM1178 941h8v8h-8zM1218 973h8v8h-8z"/><path fill="#42f7b5" d="M1186 893h8v8h-8zM1178 901h16v8h-16zM1178 909h16v8h-16zM1178 917h16v8h-16zM1178 925h16v8h-16zM1178 933h16v8h-16zM1186 941h8v8h-8zM1226 973h8v8h-8z"/><path fill="#ff9400" d="M1530 893h16v8h-16zM1514 901h24v8h-24zM1506 909h24v8h-24zM1498 917h24v8h-24zM1490 925h24v8h-24zM1490 933h16v8h-16zM1498 941h16v8h-16zM1506 949h16v8h-16zM1594 949h56v8h-56zM1506 957h72v8h-72zM1546 965h8v8h-8z"/><path fill="#ff8c00" d="M1546 893h104v8h-104zM1538 901h112v8h-112zM1530 909h16v8h-16zM1522 917h16v8h-16zM1514 925h16v8h-16zM1506 933h16v8h-16zM1514 941h24v8h-24zM1522 949h72v8h-72z"/><path fill="#63f79c" d="M1210 909h8v8h-8zM1210 981h8v8h-8z"/><path fill="#efb510" d="M1458 909h8v8h-8zM706 941h24v8h-24zM890 941h8v8h-8zM1538 981h32v8h-32zM890 1125h40v8h-40z"/><path fill="#ff8400" d="M1546 909h104v8h-104zM1538 917h112v8h-112zM1530 925h16v8h-16zM1522 933h24v8h-24zM1538 941h112v8h-112z"/><path fill="#f7a508" d="M1466 917h8v8h-8zM714 933h16v8h-16zM850 933h40v8h-40zM1466 941h8v8h-8zM1498 973h32v8h-32zM1546 973h24v8h-24zM1090 1093h8v8h-8zM1114 1093h8v8h-8zM890 1133h16v8h-16zM914 1133h16v8h-16z"/><path fill="#ff7b00" d="M1546 925h104v8h-104zM1546 933h104v8h-104z"/><path fill="#efad10" d="M674 941h32v8h-32z"/><path fill="#e6b510" d="M786 941h8v8h-8zM882 941h8v8h-8zM986 941h8v8h-8zM1498 981h40v8h-40z"/><path fill="#e6b519" d="M850 941h32v8h-32z"/><path fill="#debd19" d="M1018 941h16v8h-16zM1482 1205h56v8h-56z"/><path fill="#e6c510" d="M1450 941h8v8h-8zM930 949h24v8h-24zM1450 949h8v8h-8zM1274 1045h8v8h-8zM834 1101h8v8h-8zM1114 1109h16v8h-16zM842 1117h8v8h-8zM938 1117h16v8h-16zM770 1189h8v8h-8zM1426 1197h8v8h-8zM786 1229h8v8h-8zM802 1245h8v8h-8z"/><path fill="#d6c529" d="M850 949h8v8h-8zM874 949h8v8h-8zM1498 989h16v8h-16z"/><path fill="#cec529" d="M858 949h16v8h-16z"/><path fill="#cece29" d="M1002 949h8v8h-8zM1466 1197h8v8h-8z"/><path fill="#cece31" d="M1010 949h16v8h-16zM1050 1093h8v8h-8zM1474 1197h16v8h-16zM1530 1197h32v8h-32z"/><path fill="#c5ce31" d="M1026 949h8v8h-8zM1490 1197h40v8h-40z"/><path fill="#5aff9c" d="M1146 949h8v8h-8zM1154 957h8v8h-8zM1162 965h8v8h-8zM1170 973h8v8h-8zM786 1037h32v8h-32zM986 1037h40v8h-40zM786 1045h8v8h-8zM986 1045h40v8h-40z"/><path fill="#b5de42" d="M1010 957h8v8h-8zM1042 1093h8v8h-8zM1042 1101h8v8h-8zM1466 1189h16v8h-16zM1538 1189h32v8h-32z"/><path fill="#b5de4a" d="M1018 957h8v8h-8zM1482 1189h16v8h-16zM1522 1189h16v8h-16z"/><path fill="#adde4a" d="M1026 957h16v8h-16zM834 1077h8v8h-8zM1042 1085h8v8h-8zM1498 1189h24v8h-24z"/><path fill="#ade652" d="M1050 957h8v8h-8zM1114 1029h8v8h-8z"/><path fill="#6bff94" d="M1146 965h8v8h-8zM1170 981h8v8h-8zM882 1013h8v8h-8zM786 1021h8v8h-8zM986 1021h8v8h-8z"/><path fill="#5af7a5" d="M1234 973h8v8h-8zM1010 1053h8v8h-8z"/><path fill="#a5f75a" d="M890 981h8v8h-8zM1202 1005h8v8h-8zM1434 1149h8v8h-8zM1450 1165h8v8h-8zM1130 1189h8v8h-8zM1202 1293h8v8h-8z"/><path fill="#7bf784" d="M1210 989h8v8h-8zM906 1005h8v8h-8z"/><path fill="#7bef7b" d="M1226 989h8v8h-8zM778 1061h8v8h-8zM834 1061h8v8h-8z"/><path fill="#94f76b" d="M1242 989h8v8h-8zM1210 997h8v8h-8z"/><path fill="#9cef63" d="M1226 997h8v8h-8zM970 1069h8v8h-8z"/><path fill="#84f77b" d="M946 1005h8v8h-8zM1002 1069h8v8h-8z"/><path fill="#bde642" d="M1546 1005h8v8h-8zM850 1085h8v8h-8zM994 1085h8v8h-8zM1042 1109h8v8h-8zM1218 1309h8v8h-8zM1242 1309h16v8h-16z"/><path fill="#8cf773" d="M1050 1021h8v8h-8zM1138 1021h8v8h-8z"/><path fill="#94ef6b" d="M1114 1021h8v8h-8z"/><path fill="#bdde42" d="M1146 1037h8v8h-8zM1050 1069h8v8h-8zM770 1077h8v8h-8z"/><path fill="#73ef8c" d="M810 1061h24v8h-24z"/><path fill="#84ff7b" d="M1506 1061h8v8h-8z"/><path fill="#9ce663" d="M778 1069h8v8h-8z"/><path fill="#94e663" d="M786 1069h16v8h-16zM834 1069h8v8h-8z"/><path fill="#94e66b" d="M802 1069h16v8h-16zM826 1069h8v8h-8z"/><path fill="#94de6b" d="M818 1069h8v8h-8z"/><path fill="#8cef73" d="M994 1069h8v8h-8z"/><path fill="#9ce65a" d="M1042 1069h8v8h-8z"/><path fill="#b5d642" d="M778 1077h16v8h-16z"/><path fill="#b5d64a" d="M794 1077h40v8h-40z"/><defs><filter id="fb2" filterUnits="userSpaceOnUse" x="660" y="730" width="1000" height="640"><feGaussianBlur stdDeviation="2.00"/></filter><filter id="fb2_5" filterUnits="userSpaceOnUse" x="660" y="730" width="1000" height="640"><feGaussianBlur stdDeviation="2.50"/></filter><filter id="fb3" filterUnits="userSpaceOnUse" x="660" y="730" width="1000" height="640"><feGaussianBlur stdDeviation="3.00"/></filter><filter id="fb4" filterUnits="userSpaceOnUse" x="660" y="730" width="1000" height="640"><feGaussianBlur stdDeviation="4.00"/></filter><filter id="fb5" filterUnits="userSpaceOnUse" x="660" y="730" width="1000" height="640"><feGaussianBlur stdDeviation="5.00"/></filter><filter id="fb6" filterUnits="userSpaceOnUse" x="660" y="730" width="1000" height="640"><feGaussianBlur stdDeviation="6.00"/></filter><filter id="fb8" filterUnits="userSpaceOnUse" x="660" y="730" width="1000" height="640"><feGaussianBlur stdDeviation="8.00"/></filter></defs></g><polygon points="1250.0,830.0 1330.0,826.0 1330.0,852.0 1250.0,852.0" fill="#fd8d01" opacity="0.5" filter="url(#fb6)"/><polygon points="1137.6,839.4 1147.0,834.7 1176.4,834.7 1217.5,833.5 1249.3,834.7 1250.5,847.6 1227.0,859.4 1217.5,855.9 1172.9,850.0 1162.3,855.9 1149.4,853.5 1138.8,844.1" fill="#f44700" opacity="0.8" filter="url(#fb3)"/><polygon points="1162.0,862.0 1167.0,862.0 1193.0,882.0 1190.0,889.0 1161.0,868.0" fill="#0280fc" opacity="0.9" filter="url(#fb2)"/><polygon points="1189.3,884.0 1202.3,888.0 1216.4,891.0 1223.8,895.8 1223.2,902.7 1216.4,902.1 1203.4,898.0 1190.9,892.1" fill="#0019e6" opacity="1.0" filter="url(#fb2_5)"/><polygon points="1113.0,854.0 1146.0,857.0 1146.0,866.0 1113.0,864.0" fill="#049cf9" opacity="0.7" filter="url(#fb3)"/><polygon points="1199.0,950.0 1212.0,945.0 1218.0,955.0 1214.0,966.0 1202.0,964.0" fill="#0019e6" opacity="0.9" filter="url(#fb3)"/><polygon points="1227.0,970.0 1236.0,972.0 1244.0,983.0 1244.0,990.0 1236.0,987.0 1227.0,977.0" fill="#0063fd" opacity="0.7" filter="url(#fb3)"/><polygon points="1244.8,908.2 1254.9,900.3 1277.5,908.2 1295.6,912.7 1318.2,930.8 1322.7,948.9 1338.6,980.6 1336.3,989.6 1318.2,989.6 1300.1,976.0 1286.6,960.2 1282.1,948.9 1261.7,926.3 1245.9,917.3" fill="#e12400" opacity="0.85" filter="url(#fb4)"/><polygon points="1290.0,950.0 1322.0,950.0 1336.0,985.0 1318.0,988.0 1298.0,972.0" fill="#c30e00" opacity="0.45" filter="url(#fb5)"/><polygon points="981.7,1066.4 986.4,1055.8 995.8,1052.3 1012.3,1055.8 1027.6,1065.2 1029.9,1082.9 1024.0,1089.9 1014.6,1089.9 1005.2,1082.9 991.1,1077.0 982.9,1072.3" fill="#08aef5" opacity="0.9" filter="url(#fb4)"/><polygon points="996.0,1056.0 1019.0,1058.0 1019.0,1075.0 996.0,1072.0" fill="#0051fc" opacity="0.6" filter="url(#fb4)"/><polygon points="991.0,1088.0 1005.0,1088.0 1005.0,1099.0 991.0,1099.0" fill="#ee3800" opacity="0.8" filter="url(#fb3)"/><polygon points="1010.0,1036.0 1018.0,1036.0 1018.0,1043.0 1010.0,1043.0" fill="#e62a00" opacity="0.8" filter="url(#fb3)"/><polygon points="1188.3,1019.3 1198.4,997.6 1207.1,1012.1 1215.8,1038.2 1241.9,1051.2 1276.7,1083.1 1270.9,1087.4 1256.4,1081.6 1220.1,1061.3 1198.4,1043.9 1189.7,1032.4" fill="#ee3800" opacity="0.85" filter="url(#fb3)"/><polygon points="1183.9,1046.9 1195.5,1058.4 1227.4,1083.1 1256.4,1094.7 1294.1,1107.7 1295.5,1115.0 1270.9,1113.5 1241.9,1101.9 1212.9,1090.3 1191.2,1072.9 1182.5,1058.4" fill="#fa6000" opacity="0.75" filter="url(#fb3)"/><polyline points="1080.0,1205.0 1100.0,1216.0 1115.0,1232.0 1136.0,1252.0 1157.0,1267.0 1178.0,1279.0 1199.0,1289.0 1221.0,1297.0 1250.0,1303.0 1271.0,1306.0" fill="none" stroke="#fd8d01" stroke-width="26" stroke-linecap="round" stroke-linejoin="round" opacity="0.45" filter="url(#fb6)"/><polyline points="1075.0,1212.0 1097.0,1222.0 1111.0,1237.0 1133.0,1258.0 1155.0,1273.0 1177.0,1284.0 1198.0,1295.0 1220.0,1302.0 1249.0,1308.0 1271.0,1311.0" fill="none" stroke="#ee3800" stroke-width="12" stroke-linecap="round" stroke-linejoin="round" opacity="0.8" filter="url(#fb3)"/><polygon points="739.0,998.0 820.0,1005.0 845.0,1050.0 820.0,1060.0 739.0,1050.0" fill="#54faa3" opacity="0.5" filter="url(#fb8)"/><polyline points="787.0,1050.0 836.0,1062.0 869.0,1078.0 901.0,1095.0" fill="none" stroke="#25e6d4" stroke-width="12" stroke-linecap="round" stroke-linejoin="round" opacity="0.7" filter="url(#fb3)"/><polyline points="1296.0,1115.0 1380.0,1145.0 1476.0,1176.0" fill="none" stroke="#f9b004" stroke-width="6" stroke-linecap="round" stroke-linejoin="round" opacity="0.35" filter="url(#fb4)"/><polyline points="1602.0,1022.0 1591.0,1037.0 1576.0,1050.0 1569.0,1073.0 1556.0,1082.0 1547.0,1083.0" fill="none" stroke="#fd7b00" stroke-width="6" stroke-linecap="round" stroke-linejoin="round" opacity="0.6" filter="url(#fb3)"/><polyline points="940.0,1121.0 1000.0,1150.0 1053.0,1180.0" fill="none" stroke="#54faa3" stroke-width="10" stroke-linecap="round" stroke-linejoin="round" opacity="0.6" filter="url(#fb4)"/><polyline points="1019.0,1085.0 1100.0,1115.0 1180.0,1142.0" fill="none" stroke="#6bfd8c" stroke-width="14" stroke-linecap="round" stroke-linejoin="round" opacity="0.5" filter="url(#fb5)"/><polyline points="814.0,1058.0 878.0,1088.0 948.0,1118.0 1010.0,1150.0 1072.0,1187.0 1147.0,1247.0" fill="none" stroke="#4cf9ab" stroke-width="12" stroke-linecap="round" stroke-linejoin="round" opacity="0.5" filter="url(#fb5)"/></g>
<rect x="300" y="454" width="1488" height="892" fill="none" stroke="#000" stroke-width="4" />
<path d="M597.6 454v17M597.6 1346v-17M895.2 454v17M895.2 1346v-17M1192.8 454v17M1192.8 1346v-17M1490.4 454v17M1490.4 1346v-17M300 572.9h17M1788 572.9h-17M300 691.9h17M1788 691.9h-17M300 810.8h17M1788 810.8h-17M300 929.7h17M1788 929.7h-17M300 1048.7h17M1788 1048.7h-17M300 1167.6h17M1788 1167.6h-17M300 1286.5h17M1788 1286.5h-17" stroke="#000" stroke-width="2" fill="none"/>
<text x="300.0" y="1399" font-size="52" text-anchor="middle" textLength="31.8" lengthAdjust="spacingAndGlyphs">0</text>
<text x="597.6" y="1399" font-size="52" text-anchor="middle" textLength="95.4" lengthAdjust="spacingAndGlyphs">500</text>
<text x="895.2" y="1399" font-size="52" text-anchor="middle" textLength="127.2" lengthAdjust="spacingAndGlyphs">1000</text>
<text x="1192.8" y="1399" font-size="52" text-anchor="middle" textLength="127.2" lengthAdjust="spacingAndGlyphs">1500</text>
<text x="1490.4" y="1399" font-size="52" text-anchor="middle" textLength="127.2" lengthAdjust="spacingAndGlyphs">2000</text>
<text x="284" y="471.2" font-size="52" text-anchor="end" textLength="31.0" lengthAdjust="spacingAndGlyphs">0</text>
<text x="284" y="590.1" font-size="52" text-anchor="end" textLength="93.0" lengthAdjust="spacingAndGlyphs">200</text>
<text x="284" y="709.1" font-size="52" text-anchor="end" textLength="93.0" lengthAdjust="spacingAndGlyphs">400</text>
<text x="284" y="828.0" font-size="52" text-anchor="end" textLength="93.0" lengthAdjust="spacingAndGlyphs">600</text>
<text x="284" y="946.9" font-size="52" text-anchor="end" textLength="93.0" lengthAdjust="spacingAndGlyphs">800</text>
<text x="284" y="1065.9" font-size="52" text-anchor="end" textLength="124.0" lengthAdjust="spacingAndGlyphs">1000</text>
<text x="284" y="1184.8" font-size="52" text-anchor="end" textLength="124.0" lengthAdjust="spacingAndGlyphs">1200</text>
<text x="284" y="1303.7" font-size="52" text-anchor="end" textLength="124.0" lengthAdjust="spacingAndGlyphs">1400</text>
<text x="1044" y="361" font-size="65" text-anchor="middle" textLength="1114" lengthAdjust="spacingAndGlyphs">Value of (Data File B - Data File A) for</text>
<text x="1045.5" y="432" font-size="65" text-anchor="middle" textLength="1076" lengthAdjust="spacingAndGlyphs">ABI_Rad_band08_GOES-Imager_b12</text>
<rect x="1881" y="180" width="72" height="1440" fill="url(#jet)" stroke="#000" stroke-width="4"/>
<text x="1966" y="221.6" font-size="52" textLength="79.5" lengthAdjust="spacingAndGlyphs">1.2</text>
<text x="1966" y="392.6" font-size="52" textLength="79.5" lengthAdjust="spacingAndGlyphs">0.6</text>
<text x="1966" y="563.6" font-size="52" textLength="31.8" lengthAdjust="spacingAndGlyphs">0</text>
<text x="1966" y="734.6" font-size="52" textLength="97.5" lengthAdjust="spacingAndGlyphs">-0.6</text>
<text x="1966" y="905.6" font-size="52" textLength="97.5" lengthAdjust="spacingAndGlyphs">-1.2</text>
<text x="1966" y="1076.6" font-size="52" textLength="97.5" lengthAdjust="spacingAndGlyphs">-1.8</text>
<text x="1966" y="1247.6" font-size="52" textLength="97.5" lengthAdjust="spacingAndGlyphs">-2.4</text>
<text x="1966" y="1418.6" font-size="52" textLength="49.9" lengthAdjust="spacingAndGlyphs">-3</text>
<text x="1966" y="1589.6" font-size="52" textLength="97.5" lengthAdjust="spacingAndGlyphs">-3.6</text>
<path d="M1953 204.6h-17M1953 375.6h-17M1953 546.6h-17M1953 717.6h-17M1953 888.6h-17M1953 1059.6h-17M1953 1230.6h-17M1953 1401.6h-17M1953 1572.6h-17" stroke="#000" stroke-width="2" fill="none"/>
<text transform="translate(2119 897.5) rotate(-90)" x="0" y="0" font-size="52" text-anchor="middle" textLength="1473" lengthAdjust="spacingAndGlyphs">milliWatts per meter squared per steradian per inverse cm</text>
</svg></body></html>
